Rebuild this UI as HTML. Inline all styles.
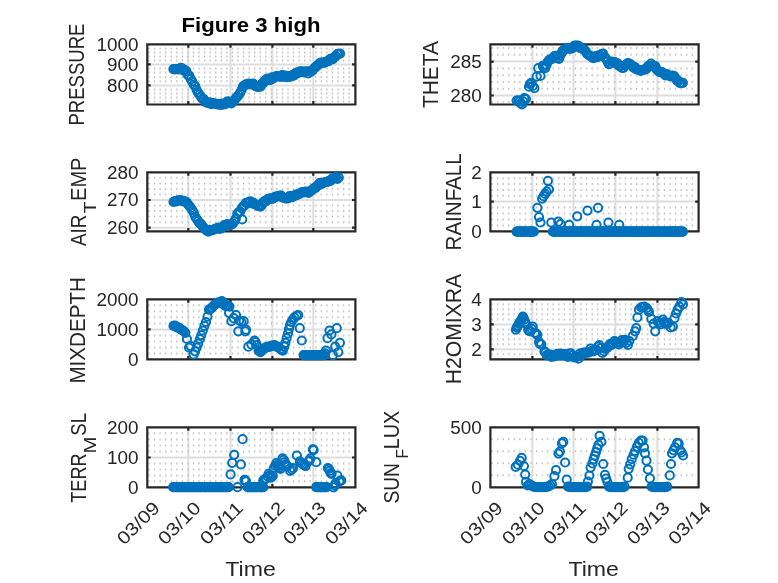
<!DOCTYPE html>
<html lang="en"><head><meta charset="utf-8"><title>Figure 3 high</title>
<style>html,body{margin:0;padding:0;background:#fff;}svg{display:block;filter:blur(0.4px);}</style></head>
<body><svg width="778" height="583" viewBox="0 0 778 583" font-family="'Liberation Sans', sans-serif" fill="#262626">
<rect width="778" height="583" fill="#fff"/>
<g>
<path d="M188.30 44.30V104.50M230.50 44.30V104.50M272.40 44.30V104.50M313.30 44.30V104.50M147.30 64.40H355.40M147.30 85.40H355.40" stroke="#dedede" stroke-width="2" fill="none"/>
<path d="M149.00 47.40v2M149.00 51.40v2M149.00 55.40v2M149.00 59.40v2M149.00 67.40v2M149.00 71.40v2M149.00 76.00v2M149.00 80.20v2M149.00 88.40v2M149.00 92.40v2M149.00 96.50v2M149.00 100.50v2M154.56 47.40v2M154.56 51.40v2M154.56 55.40v2M154.56 59.40v2M154.56 67.40v2M154.56 71.40v2M154.56 76.00v2M154.56 80.20v2M154.56 88.40v2M154.56 92.40v2M154.56 96.50v2M154.56 100.50v2M160.12 47.40v2M160.12 51.40v2M160.12 55.40v2M160.12 59.40v2M160.12 67.40v2M160.12 71.40v2M160.12 76.00v2M160.12 80.20v2M160.12 88.40v2M160.12 92.40v2M160.12 96.50v2M160.12 100.50v2M165.68 47.40v2M165.68 51.40v2M165.68 55.40v2M165.68 59.40v2M165.68 67.40v2M165.68 71.40v2M165.68 76.00v2M165.68 80.20v2M165.68 88.40v2M165.68 92.40v2M165.68 96.50v2M165.68 100.50v2M171.24 47.40v2M171.24 51.40v2M171.24 55.40v2M171.24 59.40v2M171.24 67.40v2M171.24 71.40v2M171.24 76.00v2M171.24 80.20v2M171.24 88.40v2M171.24 92.40v2M171.24 96.50v2M171.24 100.50v2M176.80 47.40v2M176.80 51.40v2M176.80 55.40v2M176.80 59.40v2M176.80 67.40v2M176.80 71.40v2M176.80 76.00v2M176.80 80.20v2M176.80 88.40v2M176.80 92.40v2M176.80 96.50v2M176.80 100.50v2M182.36 47.40v2M182.36 51.40v2M182.36 55.40v2M182.36 59.40v2M182.36 67.40v2M182.36 71.40v2M182.36 76.00v2M182.36 80.20v2M182.36 88.40v2M182.36 92.40v2M182.36 96.50v2M182.36 100.50v2M187.92 47.40v2M187.92 51.40v2M187.92 55.40v2M187.92 59.40v2M187.92 67.40v2M187.92 71.40v2M187.92 76.00v2M187.92 80.20v2M187.92 88.40v2M187.92 92.40v2M187.92 96.50v2M187.92 100.50v2M193.48 47.40v2M193.48 51.40v2M193.48 55.40v2M193.48 59.40v2M193.48 67.40v2M193.48 71.40v2M193.48 76.00v2M193.48 80.20v2M193.48 88.40v2M193.48 92.40v2M193.48 96.50v2M193.48 100.50v2M199.04 47.40v2M199.04 51.40v2M199.04 55.40v2M199.04 59.40v2M199.04 67.40v2M199.04 71.40v2M199.04 76.00v2M199.04 80.20v2M199.04 88.40v2M199.04 92.40v2M199.04 96.50v2M199.04 100.50v2M204.60 47.40v2M204.60 51.40v2M204.60 55.40v2M204.60 59.40v2M204.60 67.40v2M204.60 71.40v2M204.60 76.00v2M204.60 80.20v2M204.60 88.40v2M204.60 92.40v2M204.60 96.50v2M204.60 100.50v2M210.16 47.40v2M210.16 51.40v2M210.16 55.40v2M210.16 59.40v2M210.16 67.40v2M210.16 71.40v2M210.16 76.00v2M210.16 80.20v2M210.16 88.40v2M210.16 92.40v2M210.16 96.50v2M210.16 100.50v2M215.72 47.40v2M215.72 51.40v2M215.72 55.40v2M215.72 59.40v2M215.72 67.40v2M215.72 71.40v2M215.72 76.00v2M215.72 80.20v2M215.72 88.40v2M215.72 92.40v2M215.72 96.50v2M215.72 100.50v2M221.28 47.40v2M221.28 51.40v2M221.28 55.40v2M221.28 59.40v2M221.28 67.40v2M221.28 71.40v2M221.28 76.00v2M221.28 80.20v2M221.28 88.40v2M221.28 92.40v2M221.28 96.50v2M221.28 100.50v2M226.84 47.40v2M226.84 51.40v2M226.84 55.40v2M226.84 59.40v2M226.84 67.40v2M226.84 71.40v2M226.84 76.00v2M226.84 80.20v2M226.84 88.40v2M226.84 92.40v2M226.84 96.50v2M226.84 100.50v2M232.40 47.40v2M232.40 51.40v2M232.40 55.40v2M232.40 59.40v2M232.40 67.40v2M232.40 71.40v2M232.40 76.00v2M232.40 80.20v2M232.40 88.40v2M232.40 92.40v2M232.40 96.50v2M232.40 100.50v2M237.96 47.40v2M237.96 51.40v2M237.96 55.40v2M237.96 59.40v2M237.96 67.40v2M237.96 71.40v2M237.96 76.00v2M237.96 80.20v2M237.96 88.40v2M237.96 92.40v2M237.96 96.50v2M237.96 100.50v2M243.52 47.40v2M243.52 51.40v2M243.52 55.40v2M243.52 59.40v2M243.52 67.40v2M243.52 71.40v2M243.52 76.00v2M243.52 80.20v2M243.52 88.40v2M243.52 92.40v2M243.52 96.50v2M243.52 100.50v2M249.08 47.40v2M249.08 51.40v2M249.08 55.40v2M249.08 59.40v2M249.08 67.40v2M249.08 71.40v2M249.08 76.00v2M249.08 80.20v2M249.08 88.40v2M249.08 92.40v2M249.08 96.50v2M249.08 100.50v2M254.64 47.40v2M254.64 51.40v2M254.64 55.40v2M254.64 59.40v2M254.64 67.40v2M254.64 71.40v2M254.64 76.00v2M254.64 80.20v2M254.64 88.40v2M254.64 92.40v2M254.64 96.50v2M254.64 100.50v2M260.20 47.40v2M260.20 51.40v2M260.20 55.40v2M260.20 59.40v2M260.20 67.40v2M260.20 71.40v2M260.20 76.00v2M260.20 80.20v2M260.20 88.40v2M260.20 92.40v2M260.20 96.50v2M260.20 100.50v2M265.76 47.40v2M265.76 51.40v2M265.76 55.40v2M265.76 59.40v2M265.76 67.40v2M265.76 71.40v2M265.76 76.00v2M265.76 80.20v2M265.76 88.40v2M265.76 92.40v2M265.76 96.50v2M265.76 100.50v2M271.32 47.40v2M271.32 51.40v2M271.32 55.40v2M271.32 59.40v2M271.32 67.40v2M271.32 71.40v2M271.32 76.00v2M271.32 80.20v2M271.32 88.40v2M271.32 92.40v2M271.32 96.50v2M271.32 100.50v2M276.88 47.40v2M276.88 51.40v2M276.88 55.40v2M276.88 59.40v2M276.88 67.40v2M276.88 71.40v2M276.88 76.00v2M276.88 80.20v2M276.88 88.40v2M276.88 92.40v2M276.88 96.50v2M276.88 100.50v2M282.44 47.40v2M282.44 51.40v2M282.44 55.40v2M282.44 59.40v2M282.44 67.40v2M282.44 71.40v2M282.44 76.00v2M282.44 80.20v2M282.44 88.40v2M282.44 92.40v2M282.44 96.50v2M282.44 100.50v2M288.00 47.40v2M288.00 51.40v2M288.00 55.40v2M288.00 59.40v2M288.00 67.40v2M288.00 71.40v2M288.00 76.00v2M288.00 80.20v2M288.00 88.40v2M288.00 92.40v2M288.00 96.50v2M288.00 100.50v2M293.56 47.40v2M293.56 51.40v2M293.56 55.40v2M293.56 59.40v2M293.56 67.40v2M293.56 71.40v2M293.56 76.00v2M293.56 80.20v2M293.56 88.40v2M293.56 92.40v2M293.56 96.50v2M293.56 100.50v2M299.12 47.40v2M299.12 51.40v2M299.12 55.40v2M299.12 59.40v2M299.12 67.40v2M299.12 71.40v2M299.12 76.00v2M299.12 80.20v2M299.12 88.40v2M299.12 92.40v2M299.12 96.50v2M299.12 100.50v2M304.68 47.40v2M304.68 51.40v2M304.68 55.40v2M304.68 59.40v2M304.68 67.40v2M304.68 71.40v2M304.68 76.00v2M304.68 80.20v2M304.68 88.40v2M304.68 92.40v2M304.68 96.50v2M304.68 100.50v2M310.24 47.40v2M310.24 51.40v2M310.24 55.40v2M310.24 59.40v2M310.24 67.40v2M310.24 71.40v2M310.24 76.00v2M310.24 80.20v2M310.24 88.40v2M310.24 92.40v2M310.24 96.50v2M310.24 100.50v2M315.80 47.40v2M315.80 51.40v2M315.80 55.40v2M315.80 59.40v2M315.80 67.40v2M315.80 71.40v2M315.80 76.00v2M315.80 80.20v2M315.80 88.40v2M315.80 92.40v2M315.80 96.50v2M315.80 100.50v2M321.36 47.40v2M321.36 51.40v2M321.36 55.40v2M321.36 59.40v2M321.36 67.40v2M321.36 71.40v2M321.36 76.00v2M321.36 80.20v2M321.36 88.40v2M321.36 92.40v2M321.36 96.50v2M321.36 100.50v2M326.92 47.40v2M326.92 51.40v2M326.92 55.40v2M326.92 59.40v2M326.92 67.40v2M326.92 71.40v2M326.92 76.00v2M326.92 80.20v2M326.92 88.40v2M326.92 92.40v2M326.92 96.50v2M326.92 100.50v2M332.48 47.40v2M332.48 51.40v2M332.48 55.40v2M332.48 59.40v2M332.48 67.40v2M332.48 71.40v2M332.48 76.00v2M332.48 80.20v2M332.48 88.40v2M332.48 92.40v2M332.48 96.50v2M332.48 100.50v2M338.04 47.40v2M338.04 51.40v2M338.04 55.40v2M338.04 59.40v2M338.04 67.40v2M338.04 71.40v2M338.04 76.00v2M338.04 80.20v2M338.04 88.40v2M338.04 92.40v2M338.04 96.50v2M338.04 100.50v2M343.60 47.40v2M343.60 51.40v2M343.60 55.40v2M343.60 59.40v2M343.60 67.40v2M343.60 71.40v2M343.60 76.00v2M343.60 80.20v2M343.60 88.40v2M343.60 92.40v2M343.60 96.50v2M343.60 100.50v2M349.16 47.40v2M349.16 51.40v2M349.16 55.40v2M349.16 59.40v2M349.16 67.40v2M349.16 71.40v2M349.16 76.00v2M349.16 80.20v2M349.16 88.40v2M349.16 92.40v2M349.16 96.50v2M349.16 100.50v2" stroke="#c2c2c2" stroke-width="1.3" fill="none"/>
<path d="M147.30 44.30H355.40V104.50H147.30ZM147.30 44.30v3.4M147.30 104.50v-3.4M188.30 44.30v3.4M188.30 104.50v-3.4M230.50 44.30v3.4M230.50 104.50v-3.4M272.40 44.30v3.4M272.40 104.50v-3.4M313.30 44.30v3.4M313.30 104.50v-3.4M355.40 44.30v3.4M355.40 104.50v-3.4M147.30 44.30h3.4M355.40 44.30h-3.4M147.30 64.40h3.4M355.40 64.40h-3.4M147.30 85.40h3.4M355.40 85.40h-3.4" stroke="#262626" stroke-width="2.2" fill="none" stroke-linejoin="miter"/>
<g fill="none" stroke="#0072bd" stroke-width="2.0"><circle cx="173.4" cy="69.1" r="4.1"/><circle cx="174.8" cy="69.5" r="4.1"/><circle cx="176.3" cy="69.0" r="4.1"/><circle cx="177.8" cy="69.3" r="4.1"/><circle cx="179.2" cy="69.1" r="4.1"/><circle cx="180.7" cy="67.8" r="4.1"/><circle cx="182.1" cy="68.3" r="4.1"/><circle cx="183.6" cy="70.7" r="4.1"/><circle cx="185.0" cy="70.1" r="4.1"/><circle cx="186.4" cy="71.1" r="4.1"/><circle cx="187.9" cy="74.9" r="4.1"/><circle cx="189.3" cy="75.9" r="4.1"/><circle cx="190.8" cy="79.2" r="4.1"/><circle cx="192.2" cy="81.3" r="4.1"/><circle cx="193.7" cy="84.6" r="4.1"/><circle cx="195.2" cy="86.2" r="4.1"/><circle cx="196.6" cy="89.8" r="4.1"/><circle cx="198.1" cy="92.7" r="4.1"/><circle cx="199.5" cy="94.5" r="4.1"/><circle cx="200.9" cy="96.8" r="4.1"/><circle cx="202.4" cy="98.6" r="4.1"/><circle cx="203.8" cy="99.1" r="4.1"/><circle cx="205.3" cy="102.0" r="4.1"/><circle cx="206.8" cy="102.6" r="4.1"/><circle cx="208.2" cy="102.9" r="4.1"/><circle cx="209.7" cy="102.4" r="4.1"/><circle cx="211.1" cy="104.1" r="4.1"/><circle cx="212.6" cy="103.0" r="4.1"/><circle cx="214.0" cy="103.4" r="4.1"/><circle cx="215.4" cy="104.0" r="4.1"/><circle cx="216.9" cy="103.9" r="4.1"/><circle cx="218.3" cy="104.7" r="4.1"/><circle cx="219.8" cy="103.9" r="4.1"/><circle cx="221.2" cy="104.8" r="4.1"/><circle cx="222.7" cy="103.6" r="4.1"/><circle cx="224.2" cy="104.3" r="4.1"/><circle cx="225.6" cy="103.8" r="4.1"/><circle cx="227.1" cy="101.7" r="4.1"/><circle cx="228.5" cy="101.7" r="4.1"/><circle cx="229.9" cy="101.8" r="4.1"/><circle cx="231.4" cy="103.3" r="4.1"/><circle cx="232.8" cy="101.9" r="4.1"/><circle cx="234.3" cy="100.6" r="4.1"/><circle cx="235.8" cy="98.1" r="4.1"/><circle cx="237.2" cy="96.9" r="4.1"/><circle cx="238.7" cy="94.9" r="4.1"/><circle cx="240.1" cy="92.9" r="4.1"/><circle cx="241.6" cy="89.9" r="4.1"/><circle cx="243.0" cy="86.3" r="4.1"/><circle cx="244.4" cy="85.5" r="4.1"/><circle cx="245.9" cy="84.4" r="4.1"/><circle cx="247.3" cy="84.3" r="4.1"/><circle cx="248.8" cy="83.5" r="4.1"/><circle cx="250.2" cy="84.1" r="4.1"/><circle cx="251.7" cy="84.1" r="4.1"/><circle cx="253.2" cy="83.6" r="4.1"/><circle cx="254.6" cy="85.7" r="4.1"/><circle cx="256.1" cy="86.5" r="4.1"/><circle cx="257.5" cy="86.8" r="4.1"/><circle cx="258.9" cy="86.6" r="4.1"/><circle cx="260.4" cy="86.7" r="4.1"/><circle cx="261.9" cy="83.7" r="4.1"/><circle cx="263.3" cy="83.1" r="4.1"/><circle cx="264.8" cy="80.6" r="4.1"/><circle cx="266.2" cy="79.3" r="4.1"/><circle cx="267.6" cy="78.5" r="4.1"/><circle cx="269.1" cy="79.9" r="4.1"/><circle cx="270.6" cy="79.8" r="4.1"/><circle cx="272.0" cy="77.4" r="4.1"/><circle cx="273.4" cy="78.5" r="4.1"/><circle cx="274.9" cy="77.2" r="4.1"/><circle cx="276.4" cy="76.1" r="4.1"/><circle cx="277.8" cy="76.0" r="4.1"/><circle cx="279.2" cy="76.5" r="4.1"/><circle cx="280.7" cy="76.9" r="4.1"/><circle cx="282.1" cy="75.2" r="4.1"/><circle cx="283.6" cy="76.7" r="4.1"/><circle cx="285.1" cy="75.6" r="4.1"/><circle cx="286.5" cy="77.2" r="4.1"/><circle cx="287.9" cy="76.0" r="4.1"/><circle cx="289.4" cy="76.8" r="4.1"/><circle cx="290.9" cy="76.5" r="4.1"/><circle cx="292.3" cy="75.0" r="4.1"/><circle cx="293.8" cy="75.6" r="4.1"/><circle cx="295.2" cy="73.6" r="4.1"/><circle cx="296.6" cy="72.6" r="4.1"/><circle cx="298.1" cy="73.2" r="4.1"/><circle cx="299.6" cy="71.5" r="4.1"/><circle cx="301.0" cy="71.4" r="4.1"/><circle cx="302.4" cy="71.7" r="4.1"/><circle cx="303.9" cy="72.3" r="4.1"/><circle cx="305.4" cy="71.5" r="4.1"/><circle cx="306.8" cy="71.4" r="4.1"/><circle cx="308.2" cy="73.4" r="4.1"/><circle cx="309.7" cy="71.3" r="4.1"/><circle cx="311.1" cy="71.7" r="4.1"/><circle cx="312.6" cy="70.5" r="4.1"/><circle cx="314.1" cy="68.4" r="4.1"/><circle cx="315.5" cy="67.2" r="4.1"/><circle cx="316.9" cy="65.9" r="4.1"/><circle cx="318.4" cy="64.7" r="4.1"/><circle cx="319.9" cy="63.2" r="4.1"/><circle cx="321.3" cy="62.6" r="4.1"/><circle cx="322.8" cy="62.5" r="4.1"/><circle cx="324.2" cy="63.0" r="4.1"/><circle cx="325.6" cy="61.9" r="4.1"/><circle cx="327.1" cy="61.4" r="4.1"/><circle cx="328.6" cy="61.2" r="4.1"/><circle cx="330.0" cy="59.2" r="4.1"/><circle cx="331.4" cy="58.5" r="4.1"/><circle cx="332.9" cy="59.1" r="4.1"/><circle cx="334.4" cy="57.1" r="4.1"/><circle cx="335.8" cy="56.2" r="4.1"/><circle cx="337.2" cy="54.0" r="4.1"/><circle cx="338.7" cy="54.0" r="4.1"/><circle cx="340.1" cy="53.6" r="4.1"/></g>
<text x="138.4" y="50.6" text-anchor="end" font-size="18" textLength="42.0" lengthAdjust="spacingAndGlyphs">1000</text>
<text x="138.4" y="70.7" text-anchor="end" font-size="18" textLength="31.5" lengthAdjust="spacingAndGlyphs">900</text>
<text x="138.4" y="91.7" text-anchor="end" font-size="18" textLength="31.5" lengthAdjust="spacingAndGlyphs">800</text>
</g>
<g>
<path d="M532.40 44.30V104.50M573.50 44.30V104.50M615.40 44.30V104.50M657.40 44.30V104.50M490.40 61.60H698.60M490.40 95.50H698.60" stroke="#dedede" stroke-width="2" fill="none"/>
<path d="M492.10 101.28v2M492.10 87.72v2M492.10 80.94v2M492.10 74.16v2M492.10 67.38v2M492.10 53.82v2M492.10 47.04v2M497.66 101.28v2M497.66 87.72v2M497.66 80.94v2M497.66 74.16v2M497.66 67.38v2M497.66 53.82v2M497.66 47.04v2M503.22 101.28v2M503.22 87.72v2M503.22 80.94v2M503.22 74.16v2M503.22 67.38v2M503.22 53.82v2M503.22 47.04v2M508.78 101.28v2M508.78 87.72v2M508.78 80.94v2M508.78 74.16v2M508.78 67.38v2M508.78 53.82v2M508.78 47.04v2M514.34 101.28v2M514.34 87.72v2M514.34 80.94v2M514.34 74.16v2M514.34 67.38v2M514.34 53.82v2M514.34 47.04v2M519.90 101.28v2M519.90 87.72v2M519.90 80.94v2M519.90 74.16v2M519.90 67.38v2M519.90 53.82v2M519.90 47.04v2M525.46 101.28v2M525.46 87.72v2M525.46 80.94v2M525.46 74.16v2M525.46 67.38v2M525.46 53.82v2M525.46 47.04v2M531.02 101.28v2M531.02 87.72v2M531.02 80.94v2M531.02 74.16v2M531.02 67.38v2M531.02 53.82v2M531.02 47.04v2M536.58 101.28v2M536.58 87.72v2M536.58 80.94v2M536.58 74.16v2M536.58 67.38v2M536.58 53.82v2M536.58 47.04v2M542.14 101.28v2M542.14 87.72v2M542.14 80.94v2M542.14 74.16v2M542.14 67.38v2M542.14 53.82v2M542.14 47.04v2M547.70 101.28v2M547.70 87.72v2M547.70 80.94v2M547.70 74.16v2M547.70 67.38v2M547.70 53.82v2M547.70 47.04v2M553.26 101.28v2M553.26 87.72v2M553.26 80.94v2M553.26 74.16v2M553.26 67.38v2M553.26 53.82v2M553.26 47.04v2M558.82 101.28v2M558.82 87.72v2M558.82 80.94v2M558.82 74.16v2M558.82 67.38v2M558.82 53.82v2M558.82 47.04v2M564.38 101.28v2M564.38 87.72v2M564.38 80.94v2M564.38 74.16v2M564.38 67.38v2M564.38 53.82v2M564.38 47.04v2M569.94 101.28v2M569.94 87.72v2M569.94 80.94v2M569.94 74.16v2M569.94 67.38v2M569.94 53.82v2M569.94 47.04v2M575.50 101.28v2M575.50 87.72v2M575.50 80.94v2M575.50 74.16v2M575.50 67.38v2M575.50 53.82v2M575.50 47.04v2M581.06 101.28v2M581.06 87.72v2M581.06 80.94v2M581.06 74.16v2M581.06 67.38v2M581.06 53.82v2M581.06 47.04v2M586.62 101.28v2M586.62 87.72v2M586.62 80.94v2M586.62 74.16v2M586.62 67.38v2M586.62 53.82v2M586.62 47.04v2M592.18 101.28v2M592.18 87.72v2M592.18 80.94v2M592.18 74.16v2M592.18 67.38v2M592.18 53.82v2M592.18 47.04v2M597.74 101.28v2M597.74 87.72v2M597.74 80.94v2M597.74 74.16v2M597.74 67.38v2M597.74 53.82v2M597.74 47.04v2M603.30 101.28v2M603.30 87.72v2M603.30 80.94v2M603.30 74.16v2M603.30 67.38v2M603.30 53.82v2M603.30 47.04v2M608.86 101.28v2M608.86 87.72v2M608.86 80.94v2M608.86 74.16v2M608.86 67.38v2M608.86 53.82v2M608.86 47.04v2M614.42 101.28v2M614.42 87.72v2M614.42 80.94v2M614.42 74.16v2M614.42 67.38v2M614.42 53.82v2M614.42 47.04v2M619.98 101.28v2M619.98 87.72v2M619.98 80.94v2M619.98 74.16v2M619.98 67.38v2M619.98 53.82v2M619.98 47.04v2M625.54 101.28v2M625.54 87.72v2M625.54 80.94v2M625.54 74.16v2M625.54 67.38v2M625.54 53.82v2M625.54 47.04v2M631.10 101.28v2M631.10 87.72v2M631.10 80.94v2M631.10 74.16v2M631.10 67.38v2M631.10 53.82v2M631.10 47.04v2M636.66 101.28v2M636.66 87.72v2M636.66 80.94v2M636.66 74.16v2M636.66 67.38v2M636.66 53.82v2M636.66 47.04v2M642.22 101.28v2M642.22 87.72v2M642.22 80.94v2M642.22 74.16v2M642.22 67.38v2M642.22 53.82v2M642.22 47.04v2M647.78 101.28v2M647.78 87.72v2M647.78 80.94v2M647.78 74.16v2M647.78 67.38v2M647.78 53.82v2M647.78 47.04v2M653.34 101.28v2M653.34 87.72v2M653.34 80.94v2M653.34 74.16v2M653.34 67.38v2M653.34 53.82v2M653.34 47.04v2M658.90 101.28v2M658.90 87.72v2M658.90 80.94v2M658.90 74.16v2M658.90 67.38v2M658.90 53.82v2M658.90 47.04v2M664.46 101.28v2M664.46 87.72v2M664.46 80.94v2M664.46 74.16v2M664.46 67.38v2M664.46 53.82v2M664.46 47.04v2M670.02 101.28v2M670.02 87.72v2M670.02 80.94v2M670.02 74.16v2M670.02 67.38v2M670.02 53.82v2M670.02 47.04v2M675.58 101.28v2M675.58 87.72v2M675.58 80.94v2M675.58 74.16v2M675.58 67.38v2M675.58 53.82v2M675.58 47.04v2M681.14 101.28v2M681.14 87.72v2M681.14 80.94v2M681.14 74.16v2M681.14 67.38v2M681.14 53.82v2M681.14 47.04v2M686.70 101.28v2M686.70 87.72v2M686.70 80.94v2M686.70 74.16v2M686.70 67.38v2M686.70 53.82v2M686.70 47.04v2M692.26 101.28v2M692.26 87.72v2M692.26 80.94v2M692.26 74.16v2M692.26 67.38v2M692.26 53.82v2M692.26 47.04v2" stroke="#c2c2c2" stroke-width="1.3" fill="none"/>
<path d="M490.40 44.30H698.60V104.50H490.40ZM490.40 44.30v3.4M490.40 104.50v-3.4M532.40 44.30v3.4M532.40 104.50v-3.4M573.50 44.30v3.4M573.50 104.50v-3.4M615.40 44.30v3.4M615.40 104.50v-3.4M657.40 44.30v3.4M657.40 104.50v-3.4M698.60 44.30v3.4M698.60 104.50v-3.4M490.40 61.60h3.4M698.60 61.60h-3.4M490.40 95.50h3.4M698.60 95.50h-3.4" stroke="#262626" stroke-width="2.2" fill="none" stroke-linejoin="miter"/>
<g fill="none" stroke="#0072bd" stroke-width="2.0"><circle cx="516.6" cy="100.6" r="4.1"/><circle cx="518.4" cy="100.4" r="4.1"/><circle cx="519.7" cy="101.3" r="4.1"/><circle cx="520.7" cy="103.3" r="4.1"/><circle cx="522.0" cy="104.4" r="4.1"/><circle cx="523.1" cy="101.3" r="4.1"/><circle cx="524.3" cy="98.2" r="4.1"/><circle cx="525.3" cy="98.8" r="4.1"/><circle cx="525.9" cy="99.0" r="4.1"/><circle cx="529.0" cy="86.7" r="4.1"/><circle cx="529.9" cy="84.1" r="4.1"/><circle cx="531.3" cy="82.8" r="4.1"/><circle cx="532.8" cy="86.0" r="4.1"/><circle cx="534.4" cy="88.2" r="4.1"/><circle cx="536.7" cy="76.6" r="4.1"/><circle cx="538.2" cy="68.2" r="4.1"/><circle cx="540.5" cy="75.9" r="4.1"/><circle cx="542.8" cy="65.8" r="4.1"/><circle cx="543.7" cy="67.4" r="4.1"/><circle cx="545.2" cy="68.2" r="4.1"/><circle cx="546.5" cy="65.0" r="4.1"/><circle cx="547.5" cy="62.0" r="4.1"/><circle cx="548.9" cy="60.4" r="4.1"/><circle cx="549.8" cy="59.7" r="4.1"/><circle cx="551.1" cy="59.5" r="4.1"/><circle cx="552.9" cy="58.1" r="4.1"/><circle cx="554.5" cy="56.2" r="4.1"/><circle cx="556.0" cy="55.8" r="4.1"/><circle cx="557.4" cy="58.0" r="4.1"/><circle cx="559.0" cy="58.9" r="4.1"/><circle cx="560.1" cy="55.8" r="4.1"/><circle cx="561.4" cy="53.5" r="4.1"/><circle cx="562.4" cy="51.2" r="4.1"/><circle cx="563.7" cy="50.4" r="4.1"/><circle cx="565.4" cy="49.0" r="4.1"/><circle cx="566.9" cy="47.8" r="4.1"/><circle cx="568.3" cy="48.2" r="4.1"/><circle cx="569.8" cy="48.8" r="4.1"/><circle cx="571.2" cy="48.4" r="4.1"/><circle cx="572.6" cy="48.1" r="4.1"/><circle cx="574.1" cy="45.8" r="4.1"/><circle cx="575.5" cy="45.7" r="4.1"/><circle cx="577.0" cy="45.6" r="4.1"/><circle cx="578.5" cy="45.8" r="4.1"/><circle cx="579.9" cy="48.0" r="4.1"/><circle cx="581.4" cy="47.7" r="4.1"/><circle cx="582.8" cy="49.1" r="4.1"/><circle cx="584.2" cy="49.4" r="4.1"/><circle cx="585.7" cy="51.2" r="4.1"/><circle cx="587.1" cy="53.9" r="4.1"/><circle cx="588.6" cy="54.9" r="4.1"/><circle cx="590.0" cy="55.8" r="4.1"/><circle cx="591.5" cy="56.5" r="4.1"/><circle cx="593.0" cy="58.2" r="4.1"/><circle cx="594.4" cy="57.7" r="4.1"/><circle cx="595.9" cy="56.2" r="4.1"/><circle cx="597.3" cy="57.2" r="4.1"/><circle cx="598.8" cy="55.3" r="4.1"/><circle cx="600.2" cy="55.8" r="4.1"/><circle cx="601.6" cy="54.2" r="4.1"/><circle cx="603.1" cy="53.5" r="4.1"/><circle cx="604.5" cy="57.1" r="4.1"/><circle cx="606.0" cy="58.7" r="4.1"/><circle cx="607.5" cy="61.6" r="4.1"/><circle cx="608.9" cy="64.1" r="4.1"/><circle cx="610.4" cy="63.3" r="4.1"/><circle cx="611.8" cy="61.5" r="4.1"/><circle cx="613.2" cy="62.2" r="4.1"/><circle cx="614.7" cy="62.1" r="4.1"/><circle cx="616.1" cy="63.3" r="4.1"/><circle cx="617.6" cy="63.3" r="4.1"/><circle cx="619.0" cy="65.8" r="4.1"/><circle cx="620.5" cy="66.2" r="4.1"/><circle cx="622.0" cy="67.8" r="4.1"/><circle cx="623.4" cy="67.8" r="4.1"/><circle cx="624.9" cy="65.5" r="4.1"/><circle cx="626.3" cy="64.6" r="4.1"/><circle cx="627.8" cy="63.1" r="4.1"/><circle cx="629.2" cy="63.5" r="4.1"/><circle cx="630.6" cy="64.4" r="4.1"/><circle cx="632.1" cy="65.9" r="4.1"/><circle cx="633.5" cy="67.6" r="4.1"/><circle cx="635.0" cy="67.2" r="4.1"/><circle cx="636.5" cy="69.4" r="4.1"/><circle cx="637.9" cy="69.5" r="4.1"/><circle cx="639.4" cy="70.1" r="4.1"/><circle cx="640.8" cy="70.9" r="4.1"/><circle cx="642.2" cy="70.0" r="4.1"/><circle cx="643.7" cy="69.5" r="4.1"/><circle cx="645.1" cy="69.7" r="4.1"/><circle cx="646.6" cy="68.7" r="4.1"/><circle cx="648.0" cy="66.0" r="4.1"/><circle cx="649.5" cy="66.3" r="4.1"/><circle cx="651.0" cy="63.5" r="4.1"/><circle cx="652.4" cy="65.5" r="4.1"/><circle cx="653.9" cy="66.3" r="4.1"/><circle cx="655.3" cy="66.1" r="4.1"/><circle cx="656.8" cy="69.6" r="4.1"/><circle cx="658.2" cy="70.8" r="4.1"/><circle cx="659.6" cy="72.1" r="4.1"/><circle cx="661.1" cy="71.8" r="4.1"/><circle cx="662.5" cy="72.7" r="4.1"/><circle cx="664.0" cy="73.7" r="4.1"/><circle cx="665.5" cy="75.4" r="4.1"/><circle cx="666.9" cy="74.1" r="4.1"/><circle cx="668.4" cy="75.4" r="4.1"/><circle cx="669.8" cy="76.0" r="4.1"/><circle cx="671.2" cy="76.4" r="4.1"/><circle cx="672.7" cy="75.7" r="4.1"/><circle cx="674.1" cy="76.2" r="4.1"/><circle cx="675.6" cy="78.1" r="4.1"/><circle cx="677.0" cy="80.6" r="4.1"/><circle cx="678.5" cy="81.2" r="4.1"/><circle cx="680.0" cy="83.1" r="4.1"/><circle cx="681.4" cy="82.9" r="4.1"/><circle cx="682.9" cy="82.8" r="4.1"/></g>
<text x="481.8" y="67.9" text-anchor="end" font-size="18" textLength="31.5" lengthAdjust="spacingAndGlyphs">285</text>
<text x="481.8" y="101.8" text-anchor="end" font-size="18" textLength="31.5" lengthAdjust="spacingAndGlyphs">280</text>
</g>
<g>
<path d="M188.30 172.30V231.40M230.50 172.30V231.40M272.40 172.30V231.40M313.30 172.30V231.40M147.30 200.00H355.40M147.30 227.70H355.40" stroke="#dedede" stroke-width="2" fill="none"/>
<path d="M149.00 221.16v2M149.00 215.62v2M149.00 210.08v2M149.00 204.54v2M149.00 193.46v2M149.00 187.92v2M149.00 182.38v2M149.00 176.84v2M154.56 221.16v2M154.56 215.62v2M154.56 210.08v2M154.56 204.54v2M154.56 193.46v2M154.56 187.92v2M154.56 182.38v2M154.56 176.84v2M160.12 221.16v2M160.12 215.62v2M160.12 210.08v2M160.12 204.54v2M160.12 193.46v2M160.12 187.92v2M160.12 182.38v2M160.12 176.84v2M165.68 221.16v2M165.68 215.62v2M165.68 210.08v2M165.68 204.54v2M165.68 193.46v2M165.68 187.92v2M165.68 182.38v2M165.68 176.84v2M171.24 221.16v2M171.24 215.62v2M171.24 210.08v2M171.24 204.54v2M171.24 193.46v2M171.24 187.92v2M171.24 182.38v2M171.24 176.84v2M176.80 221.16v2M176.80 215.62v2M176.80 210.08v2M176.80 204.54v2M176.80 193.46v2M176.80 187.92v2M176.80 182.38v2M176.80 176.84v2M182.36 221.16v2M182.36 215.62v2M182.36 210.08v2M182.36 204.54v2M182.36 193.46v2M182.36 187.92v2M182.36 182.38v2M182.36 176.84v2M187.92 221.16v2M187.92 215.62v2M187.92 210.08v2M187.92 204.54v2M187.92 193.46v2M187.92 187.92v2M187.92 182.38v2M187.92 176.84v2M193.48 221.16v2M193.48 215.62v2M193.48 210.08v2M193.48 204.54v2M193.48 193.46v2M193.48 187.92v2M193.48 182.38v2M193.48 176.84v2M199.04 221.16v2M199.04 215.62v2M199.04 210.08v2M199.04 204.54v2M199.04 193.46v2M199.04 187.92v2M199.04 182.38v2M199.04 176.84v2M204.60 221.16v2M204.60 215.62v2M204.60 210.08v2M204.60 204.54v2M204.60 193.46v2M204.60 187.92v2M204.60 182.38v2M204.60 176.84v2M210.16 221.16v2M210.16 215.62v2M210.16 210.08v2M210.16 204.54v2M210.16 193.46v2M210.16 187.92v2M210.16 182.38v2M210.16 176.84v2M215.72 221.16v2M215.72 215.62v2M215.72 210.08v2M215.72 204.54v2M215.72 193.46v2M215.72 187.92v2M215.72 182.38v2M215.72 176.84v2M221.28 221.16v2M221.28 215.62v2M221.28 210.08v2M221.28 204.54v2M221.28 193.46v2M221.28 187.92v2M221.28 182.38v2M221.28 176.84v2M226.84 221.16v2M226.84 215.62v2M226.84 210.08v2M226.84 204.54v2M226.84 193.46v2M226.84 187.92v2M226.84 182.38v2M226.84 176.84v2M232.40 221.16v2M232.40 215.62v2M232.40 210.08v2M232.40 204.54v2M232.40 193.46v2M232.40 187.92v2M232.40 182.38v2M232.40 176.84v2M237.96 221.16v2M237.96 215.62v2M237.96 210.08v2M237.96 204.54v2M237.96 193.46v2M237.96 187.92v2M237.96 182.38v2M237.96 176.84v2M243.52 221.16v2M243.52 215.62v2M243.52 210.08v2M243.52 204.54v2M243.52 193.46v2M243.52 187.92v2M243.52 182.38v2M243.52 176.84v2M249.08 221.16v2M249.08 215.62v2M249.08 210.08v2M249.08 204.54v2M249.08 193.46v2M249.08 187.92v2M249.08 182.38v2M249.08 176.84v2M254.64 221.16v2M254.64 215.62v2M254.64 210.08v2M254.64 204.54v2M254.64 193.46v2M254.64 187.92v2M254.64 182.38v2M254.64 176.84v2M260.20 221.16v2M260.20 215.62v2M260.20 210.08v2M260.20 204.54v2M260.20 193.46v2M260.20 187.92v2M260.20 182.38v2M260.20 176.84v2M265.76 221.16v2M265.76 215.62v2M265.76 210.08v2M265.76 204.54v2M265.76 193.46v2M265.76 187.92v2M265.76 182.38v2M265.76 176.84v2M271.32 221.16v2M271.32 215.62v2M271.32 210.08v2M271.32 204.54v2M271.32 193.46v2M271.32 187.92v2M271.32 182.38v2M271.32 176.84v2M276.88 221.16v2M276.88 215.62v2M276.88 210.08v2M276.88 204.54v2M276.88 193.46v2M276.88 187.92v2M276.88 182.38v2M276.88 176.84v2M282.44 221.16v2M282.44 215.62v2M282.44 210.08v2M282.44 204.54v2M282.44 193.46v2M282.44 187.92v2M282.44 182.38v2M282.44 176.84v2M288.00 221.16v2M288.00 215.62v2M288.00 210.08v2M288.00 204.54v2M288.00 193.46v2M288.00 187.92v2M288.00 182.38v2M288.00 176.84v2M293.56 221.16v2M293.56 215.62v2M293.56 210.08v2M293.56 204.54v2M293.56 193.46v2M293.56 187.92v2M293.56 182.38v2M293.56 176.84v2M299.12 221.16v2M299.12 215.62v2M299.12 210.08v2M299.12 204.54v2M299.12 193.46v2M299.12 187.92v2M299.12 182.38v2M299.12 176.84v2M304.68 221.16v2M304.68 215.62v2M304.68 210.08v2M304.68 204.54v2M304.68 193.46v2M304.68 187.92v2M304.68 182.38v2M304.68 176.84v2M310.24 221.16v2M310.24 215.62v2M310.24 210.08v2M310.24 204.54v2M310.24 193.46v2M310.24 187.92v2M310.24 182.38v2M310.24 176.84v2M315.80 221.16v2M315.80 215.62v2M315.80 210.08v2M315.80 204.54v2M315.80 193.46v2M315.80 187.92v2M315.80 182.38v2M315.80 176.84v2M321.36 221.16v2M321.36 215.62v2M321.36 210.08v2M321.36 204.54v2M321.36 193.46v2M321.36 187.92v2M321.36 182.38v2M321.36 176.84v2M326.92 221.16v2M326.92 215.62v2M326.92 210.08v2M326.92 204.54v2M326.92 193.46v2M326.92 187.92v2M326.92 182.38v2M326.92 176.84v2M332.48 221.16v2M332.48 215.62v2M332.48 210.08v2M332.48 204.54v2M332.48 193.46v2M332.48 187.92v2M332.48 182.38v2M332.48 176.84v2M338.04 221.16v2M338.04 215.62v2M338.04 210.08v2M338.04 204.54v2M338.04 193.46v2M338.04 187.92v2M338.04 182.38v2M338.04 176.84v2M343.60 221.16v2M343.60 215.62v2M343.60 210.08v2M343.60 204.54v2M343.60 193.46v2M343.60 187.92v2M343.60 182.38v2M343.60 176.84v2M349.16 221.16v2M349.16 215.62v2M349.16 210.08v2M349.16 204.54v2M349.16 193.46v2M349.16 187.92v2M349.16 182.38v2M349.16 176.84v2" stroke="#c2c2c2" stroke-width="1.3" fill="none"/>
<path d="M147.30 172.30H355.40V231.40H147.30ZM147.30 172.30v3.4M147.30 231.40v-3.4M188.30 172.30v3.4M188.30 231.40v-3.4M230.50 172.30v3.4M230.50 231.40v-3.4M272.40 172.30v3.4M272.40 231.40v-3.4M313.30 172.30v3.4M313.30 231.40v-3.4M355.40 172.30v3.4M355.40 231.40v-3.4M147.30 172.30h3.4M355.40 172.30h-3.4M147.30 200.00h3.4M355.40 200.00h-3.4M147.30 227.70h3.4M355.40 227.70h-3.4" stroke="#262626" stroke-width="2.2" fill="none" stroke-linejoin="miter"/>
<g fill="none" stroke="#0072bd" stroke-width="2.0"><circle cx="173.5" cy="201.9" r="4.1"/><circle cx="174.9" cy="201.2" r="4.1"/><circle cx="176.4" cy="201.4" r="4.1"/><circle cx="177.8" cy="200.5" r="4.1"/><circle cx="179.3" cy="200.0" r="4.1"/><circle cx="180.8" cy="200.4" r="4.1"/><circle cx="182.2" cy="201.2" r="4.1"/><circle cx="183.7" cy="200.8" r="4.1"/><circle cx="185.1" cy="201.6" r="4.1"/><circle cx="186.6" cy="202.1" r="4.1"/><circle cx="188.0" cy="204.4" r="4.1"/><circle cx="189.4" cy="205.8" r="4.1"/><circle cx="190.9" cy="207.9" r="4.1"/><circle cx="192.3" cy="210.2" r="4.1"/><circle cx="193.8" cy="212.8" r="4.1"/><circle cx="195.2" cy="216.7" r="4.1"/><circle cx="196.7" cy="218.9" r="4.1"/><circle cx="198.2" cy="221.1" r="4.1"/><circle cx="199.6" cy="223.2" r="4.1"/><circle cx="201.1" cy="224.2" r="4.1"/><circle cx="202.5" cy="226.2" r="4.1"/><circle cx="203.9" cy="228.0" r="4.1"/><circle cx="205.4" cy="229.3" r="4.1"/><circle cx="206.8" cy="230.7" r="4.1"/><circle cx="208.3" cy="231.7" r="4.1"/><circle cx="209.8" cy="229.8" r="4.1"/><circle cx="211.2" cy="230.4" r="4.1"/><circle cx="212.7" cy="230.2" r="4.1"/><circle cx="214.1" cy="229.5" r="4.1"/><circle cx="215.6" cy="228.5" r="4.1"/><circle cx="217.0" cy="228.7" r="4.1"/><circle cx="218.4" cy="227.6" r="4.1"/><circle cx="219.9" cy="228.9" r="4.1"/><circle cx="221.3" cy="228.2" r="4.1"/><circle cx="222.8" cy="226.6" r="4.1"/><circle cx="224.2" cy="225.2" r="4.1"/><circle cx="225.7" cy="225.5" r="4.1"/><circle cx="227.2" cy="224.2" r="4.1"/><circle cx="228.6" cy="225.0" r="4.1"/><circle cx="230.1" cy="225.2" r="4.1"/><circle cx="231.5" cy="224.7" r="4.1"/><circle cx="232.9" cy="223.4" r="4.1"/><circle cx="234.4" cy="221.4" r="4.1"/><circle cx="235.8" cy="218.7" r="4.1"/><circle cx="237.3" cy="213.9" r="4.1"/><circle cx="238.8" cy="212.2" r="4.1"/><circle cx="240.2" cy="211.5" r="4.1"/><circle cx="241.7" cy="208.3" r="4.1"/><circle cx="243.1" cy="206.4" r="4.1"/><circle cx="244.6" cy="205.5" r="4.1"/><circle cx="246.0" cy="202.8" r="4.1"/><circle cx="247.4" cy="202.8" r="4.1"/><circle cx="248.9" cy="202.2" r="4.1"/><circle cx="250.3" cy="201.4" r="4.1"/><circle cx="251.8" cy="203.3" r="4.1"/><circle cx="253.2" cy="202.7" r="4.1"/><circle cx="254.7" cy="204.1" r="4.1"/><circle cx="256.1" cy="204.5" r="4.1"/><circle cx="257.6" cy="206.0" r="4.1"/><circle cx="259.1" cy="205.9" r="4.1"/><circle cx="260.5" cy="206.6" r="4.1"/><circle cx="261.9" cy="205.1" r="4.1"/><circle cx="263.4" cy="201.9" r="4.1"/><circle cx="264.9" cy="200.9" r="4.1"/><circle cx="266.3" cy="201.1" r="4.1"/><circle cx="267.8" cy="199.1" r="4.1"/><circle cx="269.2" cy="198.6" r="4.1"/><circle cx="270.6" cy="198.4" r="4.1"/><circle cx="272.1" cy="198.9" r="4.1"/><circle cx="273.6" cy="198.1" r="4.1"/><circle cx="275.0" cy="196.8" r="4.1"/><circle cx="276.4" cy="196.6" r="4.1"/><circle cx="277.9" cy="196.0" r="4.1"/><circle cx="279.4" cy="196.3" r="4.1"/><circle cx="280.8" cy="195.4" r="4.1"/><circle cx="282.2" cy="197.1" r="4.1"/><circle cx="283.7" cy="197.8" r="4.1"/><circle cx="285.1" cy="198.3" r="4.1"/><circle cx="286.6" cy="198.3" r="4.1"/><circle cx="288.1" cy="198.3" r="4.1"/><circle cx="289.5" cy="196.1" r="4.1"/><circle cx="290.9" cy="196.3" r="4.1"/><circle cx="292.4" cy="197.2" r="4.1"/><circle cx="293.9" cy="196.2" r="4.1"/><circle cx="295.3" cy="194.8" r="4.1"/><circle cx="296.8" cy="195.2" r="4.1"/><circle cx="298.2" cy="193.8" r="4.1"/><circle cx="299.6" cy="193.8" r="4.1"/><circle cx="301.1" cy="192.5" r="4.1"/><circle cx="302.6" cy="192.1" r="4.1"/><circle cx="304.0" cy="192.4" r="4.1"/><circle cx="305.4" cy="191.6" r="4.1"/><circle cx="306.9" cy="191.9" r="4.1"/><circle cx="308.4" cy="192.9" r="4.1"/><circle cx="309.8" cy="191.5" r="4.1"/><circle cx="311.2" cy="190.6" r="4.1"/><circle cx="312.7" cy="189.3" r="4.1"/><circle cx="314.1" cy="188.2" r="4.1"/><circle cx="315.6" cy="188.0" r="4.1"/><circle cx="317.1" cy="185.8" r="4.1"/><circle cx="318.5" cy="184.5" r="4.1"/><circle cx="319.9" cy="182.8" r="4.1"/><circle cx="321.4" cy="184.1" r="4.1"/><circle cx="322.9" cy="182.9" r="4.1"/><circle cx="324.3" cy="182.5" r="4.1"/><circle cx="325.8" cy="182.2" r="4.1"/><circle cx="327.2" cy="181.9" r="4.1"/><circle cx="328.6" cy="181.2" r="4.1"/><circle cx="330.1" cy="181.2" r="4.1"/><circle cx="331.6" cy="179.2" r="4.1"/><circle cx="333.0" cy="178.3" r="4.1"/><circle cx="334.4" cy="178.5" r="4.1"/><circle cx="335.9" cy="177.2" r="4.1"/><circle cx="337.4" cy="179.0" r="4.1"/><circle cx="338.8" cy="177.5" r="4.1"/><circle cx="242.2" cy="219.4" r="4.1"/></g>
<text x="138.4" y="178.6" text-anchor="end" font-size="18" textLength="31.5" lengthAdjust="spacingAndGlyphs">280</text>
<text x="138.4" y="206.3" text-anchor="end" font-size="18" textLength="31.5" lengthAdjust="spacingAndGlyphs">270</text>
<text x="138.4" y="234.0" text-anchor="end" font-size="18" textLength="31.5" lengthAdjust="spacingAndGlyphs">260</text>
</g>
<g>
<path d="M532.40 172.30V231.40M573.50 172.30V231.40M615.40 172.30V231.40M657.40 172.30V231.40M490.40 201.60H698.60" stroke="#dedede" stroke-width="2" fill="none"/>
<path d="M492.10 224.44v2M492.10 218.48v2M492.10 212.52v2M492.10 206.56v2M492.10 194.74v2M492.10 188.88v2M492.10 183.02v2M492.10 177.16v2M497.66 224.44v2M497.66 218.48v2M497.66 212.52v2M497.66 206.56v2M497.66 194.74v2M497.66 188.88v2M497.66 183.02v2M497.66 177.16v2M503.22 224.44v2M503.22 218.48v2M503.22 212.52v2M503.22 206.56v2M503.22 194.74v2M503.22 188.88v2M503.22 183.02v2M503.22 177.16v2M508.78 224.44v2M508.78 218.48v2M508.78 212.52v2M508.78 206.56v2M508.78 194.74v2M508.78 188.88v2M508.78 183.02v2M508.78 177.16v2M514.34 224.44v2M514.34 218.48v2M514.34 212.52v2M514.34 206.56v2M514.34 194.74v2M514.34 188.88v2M514.34 183.02v2M514.34 177.16v2M519.90 224.44v2M519.90 218.48v2M519.90 212.52v2M519.90 206.56v2M519.90 194.74v2M519.90 188.88v2M519.90 183.02v2M519.90 177.16v2M525.46 224.44v2M525.46 218.48v2M525.46 212.52v2M525.46 206.56v2M525.46 194.74v2M525.46 188.88v2M525.46 183.02v2M525.46 177.16v2M531.02 224.44v2M531.02 218.48v2M531.02 212.52v2M531.02 206.56v2M531.02 194.74v2M531.02 188.88v2M531.02 183.02v2M531.02 177.16v2M536.58 224.44v2M536.58 218.48v2M536.58 212.52v2M536.58 206.56v2M536.58 194.74v2M536.58 188.88v2M536.58 183.02v2M536.58 177.16v2M542.14 224.44v2M542.14 218.48v2M542.14 212.52v2M542.14 206.56v2M542.14 194.74v2M542.14 188.88v2M542.14 183.02v2M542.14 177.16v2M547.70 224.44v2M547.70 218.48v2M547.70 212.52v2M547.70 206.56v2M547.70 194.74v2M547.70 188.88v2M547.70 183.02v2M547.70 177.16v2M553.26 224.44v2M553.26 218.48v2M553.26 212.52v2M553.26 206.56v2M553.26 194.74v2M553.26 188.88v2M553.26 183.02v2M553.26 177.16v2M558.82 224.44v2M558.82 218.48v2M558.82 212.52v2M558.82 206.56v2M558.82 194.74v2M558.82 188.88v2M558.82 183.02v2M558.82 177.16v2M564.38 224.44v2M564.38 218.48v2M564.38 212.52v2M564.38 206.56v2M564.38 194.74v2M564.38 188.88v2M564.38 183.02v2M564.38 177.16v2M569.94 224.44v2M569.94 218.48v2M569.94 212.52v2M569.94 206.56v2M569.94 194.74v2M569.94 188.88v2M569.94 183.02v2M569.94 177.16v2M575.50 224.44v2M575.50 218.48v2M575.50 212.52v2M575.50 206.56v2M575.50 194.74v2M575.50 188.88v2M575.50 183.02v2M575.50 177.16v2M581.06 224.44v2M581.06 218.48v2M581.06 212.52v2M581.06 206.56v2M581.06 194.74v2M581.06 188.88v2M581.06 183.02v2M581.06 177.16v2M586.62 224.44v2M586.62 218.48v2M586.62 212.52v2M586.62 206.56v2M586.62 194.74v2M586.62 188.88v2M586.62 183.02v2M586.62 177.16v2M592.18 224.44v2M592.18 218.48v2M592.18 212.52v2M592.18 206.56v2M592.18 194.74v2M592.18 188.88v2M592.18 183.02v2M592.18 177.16v2M597.74 224.44v2M597.74 218.48v2M597.74 212.52v2M597.74 206.56v2M597.74 194.74v2M597.74 188.88v2M597.74 183.02v2M597.74 177.16v2M603.30 224.44v2M603.30 218.48v2M603.30 212.52v2M603.30 206.56v2M603.30 194.74v2M603.30 188.88v2M603.30 183.02v2M603.30 177.16v2M608.86 224.44v2M608.86 218.48v2M608.86 212.52v2M608.86 206.56v2M608.86 194.74v2M608.86 188.88v2M608.86 183.02v2M608.86 177.16v2M614.42 224.44v2M614.42 218.48v2M614.42 212.52v2M614.42 206.56v2M614.42 194.74v2M614.42 188.88v2M614.42 183.02v2M614.42 177.16v2M619.98 224.44v2M619.98 218.48v2M619.98 212.52v2M619.98 206.56v2M619.98 194.74v2M619.98 188.88v2M619.98 183.02v2M619.98 177.16v2M625.54 224.44v2M625.54 218.48v2M625.54 212.52v2M625.54 206.56v2M625.54 194.74v2M625.54 188.88v2M625.54 183.02v2M625.54 177.16v2M631.10 224.44v2M631.10 218.48v2M631.10 212.52v2M631.10 206.56v2M631.10 194.74v2M631.10 188.88v2M631.10 183.02v2M631.10 177.16v2M636.66 224.44v2M636.66 218.48v2M636.66 212.52v2M636.66 206.56v2M636.66 194.74v2M636.66 188.88v2M636.66 183.02v2M636.66 177.16v2M642.22 224.44v2M642.22 218.48v2M642.22 212.52v2M642.22 206.56v2M642.22 194.74v2M642.22 188.88v2M642.22 183.02v2M642.22 177.16v2M647.78 224.44v2M647.78 218.48v2M647.78 212.52v2M647.78 206.56v2M647.78 194.74v2M647.78 188.88v2M647.78 183.02v2M647.78 177.16v2M653.34 224.44v2M653.34 218.48v2M653.34 212.52v2M653.34 206.56v2M653.34 194.74v2M653.34 188.88v2M653.34 183.02v2M653.34 177.16v2M658.90 224.44v2M658.90 218.48v2M658.90 212.52v2M658.90 206.56v2M658.90 194.74v2M658.90 188.88v2M658.90 183.02v2M658.90 177.16v2M664.46 224.44v2M664.46 218.48v2M664.46 212.52v2M664.46 206.56v2M664.46 194.74v2M664.46 188.88v2M664.46 183.02v2M664.46 177.16v2M670.02 224.44v2M670.02 218.48v2M670.02 212.52v2M670.02 206.56v2M670.02 194.74v2M670.02 188.88v2M670.02 183.02v2M670.02 177.16v2M675.58 224.44v2M675.58 218.48v2M675.58 212.52v2M675.58 206.56v2M675.58 194.74v2M675.58 188.88v2M675.58 183.02v2M675.58 177.16v2M681.14 224.44v2M681.14 218.48v2M681.14 212.52v2M681.14 206.56v2M681.14 194.74v2M681.14 188.88v2M681.14 183.02v2M681.14 177.16v2M686.70 224.44v2M686.70 218.48v2M686.70 212.52v2M686.70 206.56v2M686.70 194.74v2M686.70 188.88v2M686.70 183.02v2M686.70 177.16v2M692.26 224.44v2M692.26 218.48v2M692.26 212.52v2M692.26 206.56v2M692.26 194.74v2M692.26 188.88v2M692.26 183.02v2M692.26 177.16v2" stroke="#c2c2c2" stroke-width="1.3" fill="none"/>
<path d="M490.40 172.30H698.60V231.40H490.40ZM490.40 172.30v3.4M490.40 231.40v-3.4M532.40 172.30v3.4M532.40 231.40v-3.4M573.50 172.30v3.4M573.50 231.40v-3.4M615.40 172.30v3.4M615.40 231.40v-3.4M657.40 172.30v3.4M657.40 231.40v-3.4M698.60 172.30v3.4M698.60 231.40v-3.4M490.40 172.30h3.4M698.60 172.30h-3.4M490.40 201.60h3.4M698.60 201.60h-3.4M490.40 231.40h3.4M698.60 231.40h-3.4" stroke="#262626" stroke-width="2.2" fill="none" stroke-linejoin="miter"/>
<g fill="none" stroke="#0072bd" stroke-width="2.0"><circle cx="516.6" cy="231.7" r="4.1"/><circle cx="517.2" cy="231.7" r="4.1"/><circle cx="518.3" cy="231.7" r="4.1"/><circle cx="519.4" cy="231.7" r="4.1"/><circle cx="520.1" cy="231.7" r="4.1"/><circle cx="521.1" cy="231.7" r="4.1"/><circle cx="521.8" cy="231.7" r="4.1"/><circle cx="522.5" cy="231.7" r="4.1"/><circle cx="523.5" cy="231.7" r="4.1"/><circle cx="524.4" cy="231.7" r="4.1"/><circle cx="525.3" cy="231.7" r="4.1"/><circle cx="526.1" cy="231.7" r="4.1"/><circle cx="527.0" cy="231.7" r="4.1"/><circle cx="528.0" cy="231.7" r="4.1"/><circle cx="528.7" cy="231.7" r="4.1"/><circle cx="529.8" cy="231.7" r="4.1"/><circle cx="530.5" cy="231.7" r="4.1"/><circle cx="531.1" cy="231.7" r="4.1"/><circle cx="532.2" cy="231.7" r="4.1"/><circle cx="532.8" cy="231.7" r="4.1"/><circle cx="533.9" cy="231.7" r="4.1"/><circle cx="552.9" cy="231.7" r="4.1"/><circle cx="554.0" cy="231.7" r="4.1"/><circle cx="554.6" cy="231.7" r="4.1"/><circle cx="555.2" cy="231.7" r="4.1"/><circle cx="556.4" cy="231.7" r="4.1"/><circle cx="557.0" cy="231.7" r="4.1"/><circle cx="558.1" cy="231.7" r="4.1"/><circle cx="559.0" cy="231.7" r="4.1"/><circle cx="559.8" cy="231.7" r="4.1"/><circle cx="561.0" cy="231.7" r="4.1"/><circle cx="561.6" cy="231.7" r="4.1"/><circle cx="562.4" cy="231.7" r="4.1"/><circle cx="563.3" cy="231.7" r="4.1"/><circle cx="564.0" cy="231.7" r="4.1"/><circle cx="565.0" cy="231.7" r="4.1"/><circle cx="565.9" cy="231.7" r="4.1"/><circle cx="566.8" cy="231.7" r="4.1"/><circle cx="567.4" cy="231.7" r="4.1"/><circle cx="568.5" cy="231.7" r="4.1"/><circle cx="569.2" cy="231.7" r="4.1"/><circle cx="570.2" cy="231.7" r="4.1"/><circle cx="571.1" cy="231.7" r="4.1"/><circle cx="572.0" cy="231.7" r="4.1"/><circle cx="572.8" cy="231.7" r="4.1"/><circle cx="573.7" cy="231.7" r="4.1"/><circle cx="574.4" cy="231.7" r="4.1"/><circle cx="575.4" cy="231.7" r="4.1"/><circle cx="576.1" cy="231.7" r="4.1"/><circle cx="577.2" cy="231.7" r="4.1"/><circle cx="577.9" cy="231.7" r="4.1"/><circle cx="578.9" cy="231.7" r="4.1"/><circle cx="579.7" cy="231.7" r="4.1"/><circle cx="580.6" cy="231.7" r="4.1"/><circle cx="581.4" cy="231.7" r="4.1"/><circle cx="582.4" cy="231.7" r="4.1"/><circle cx="582.9" cy="231.7" r="4.1"/><circle cx="584.1" cy="231.7" r="4.1"/><circle cx="585.2" cy="231.7" r="4.1"/><circle cx="585.8" cy="231.7" r="4.1"/><circle cx="586.7" cy="231.7" r="4.1"/><circle cx="587.6" cy="231.7" r="4.1"/><circle cx="588.5" cy="231.7" r="4.1"/><circle cx="589.3" cy="231.7" r="4.1"/><circle cx="590.0" cy="231.7" r="4.1"/><circle cx="591.0" cy="231.7" r="4.1"/><circle cx="592.2" cy="231.7" r="4.1"/><circle cx="592.8" cy="231.7" r="4.1"/><circle cx="593.8" cy="231.7" r="4.1"/><circle cx="594.5" cy="231.7" r="4.1"/><circle cx="595.1" cy="231.7" r="4.1"/><circle cx="596.2" cy="231.7" r="4.1"/><circle cx="597.0" cy="231.7" r="4.1"/><circle cx="598.0" cy="231.7" r="4.1"/><circle cx="599.0" cy="231.7" r="4.1"/><circle cx="599.7" cy="231.7" r="4.1"/><circle cx="600.7" cy="231.7" r="4.1"/><circle cx="601.4" cy="231.7" r="4.1"/><circle cx="602.5" cy="231.7" r="4.1"/><circle cx="603.2" cy="231.7" r="4.1"/><circle cx="604.0" cy="231.7" r="4.1"/><circle cx="604.9" cy="231.7" r="4.1"/><circle cx="606.0" cy="231.7" r="4.1"/><circle cx="606.6" cy="231.7" r="4.1"/><circle cx="607.6" cy="231.7" r="4.1"/><circle cx="608.4" cy="231.7" r="4.1"/><circle cx="609.1" cy="231.7" r="4.1"/><circle cx="610.1" cy="231.7" r="4.1"/><circle cx="611.0" cy="231.7" r="4.1"/><circle cx="611.8" cy="231.7" r="4.1"/><circle cx="612.9" cy="231.7" r="4.1"/><circle cx="613.5" cy="231.7" r="4.1"/><circle cx="614.6" cy="231.7" r="4.1"/><circle cx="615.3" cy="231.7" r="4.1"/><circle cx="616.2" cy="231.7" r="4.1"/><circle cx="617.0" cy="231.7" r="4.1"/><circle cx="617.9" cy="231.7" r="4.1"/><circle cx="618.8" cy="231.7" r="4.1"/><circle cx="619.3" cy="231.7" r="4.1"/><circle cx="620.5" cy="231.7" r="4.1"/><circle cx="621.2" cy="231.7" r="4.1"/><circle cx="622.2" cy="231.7" r="4.1"/><circle cx="623.3" cy="231.7" r="4.1"/><circle cx="624.0" cy="231.7" r="4.1"/><circle cx="624.8" cy="231.7" r="4.1"/><circle cx="625.7" cy="231.7" r="4.1"/><circle cx="626.4" cy="231.7" r="4.1"/><circle cx="627.4" cy="231.7" r="4.1"/><circle cx="628.3" cy="231.7" r="4.1"/><circle cx="629.1" cy="231.7" r="4.1"/><circle cx="630.1" cy="231.7" r="4.1"/><circle cx="630.9" cy="231.7" r="4.1"/><circle cx="631.9" cy="231.7" r="4.1"/><circle cx="632.6" cy="231.7" r="4.1"/><circle cx="633.4" cy="231.7" r="4.1"/><circle cx="634.4" cy="231.7" r="4.1"/><circle cx="635.2" cy="231.7" r="4.1"/><circle cx="636.1" cy="231.7" r="4.1"/><circle cx="637.0" cy="231.7" r="4.1"/><circle cx="637.8" cy="231.7" r="4.1"/><circle cx="638.9" cy="231.7" r="4.1"/><circle cx="639.5" cy="231.7" r="4.1"/><circle cx="640.4" cy="231.7" r="4.1"/><circle cx="641.3" cy="231.7" r="4.1"/><circle cx="642.1" cy="231.7" r="4.1"/><circle cx="643.0" cy="231.7" r="4.1"/><circle cx="643.9" cy="231.7" r="4.1"/><circle cx="644.8" cy="231.7" r="4.1"/><circle cx="645.3" cy="231.7" r="4.1"/><circle cx="646.5" cy="231.7" r="4.1"/><circle cx="647.1" cy="231.7" r="4.1"/><circle cx="648.2" cy="231.7" r="4.1"/><circle cx="649.2" cy="231.7" r="4.1"/><circle cx="650.0" cy="231.7" r="4.1"/><circle cx="651.1" cy="231.7" r="4.1"/><circle cx="651.7" cy="231.7" r="4.1"/><circle cx="652.6" cy="231.7" r="4.1"/><circle cx="653.4" cy="231.7" r="4.1"/><circle cx="654.2" cy="231.7" r="4.1"/><circle cx="655.1" cy="231.7" r="4.1"/><circle cx="655.8" cy="231.7" r="4.1"/><circle cx="656.9" cy="231.7" r="4.1"/><circle cx="657.8" cy="231.7" r="4.1"/><circle cx="658.6" cy="231.7" r="4.1"/><circle cx="659.8" cy="231.7" r="4.1"/><circle cx="660.4" cy="231.7" r="4.1"/><circle cx="661.4" cy="231.7" r="4.1"/><circle cx="662.1" cy="231.7" r="4.1"/><circle cx="663.0" cy="231.7" r="4.1"/><circle cx="663.8" cy="231.7" r="4.1"/><circle cx="664.9" cy="231.7" r="4.1"/><circle cx="665.5" cy="231.7" r="4.1"/><circle cx="666.2" cy="231.7" r="4.1"/><circle cx="667.3" cy="231.7" r="4.1"/><circle cx="668.1" cy="231.7" r="4.1"/><circle cx="669.0" cy="231.7" r="4.1"/><circle cx="670.1" cy="231.7" r="4.1"/><circle cx="670.7" cy="231.7" r="4.1"/><circle cx="671.7" cy="231.7" r="4.1"/><circle cx="672.5" cy="231.7" r="4.1"/><circle cx="673.3" cy="231.7" r="4.1"/><circle cx="674.2" cy="231.7" r="4.1"/><circle cx="674.9" cy="231.7" r="4.1"/><circle cx="675.9" cy="231.7" r="4.1"/><circle cx="676.8" cy="231.7" r="4.1"/><circle cx="677.7" cy="231.7" r="4.1"/><circle cx="678.8" cy="231.7" r="4.1"/><circle cx="679.4" cy="231.7" r="4.1"/><circle cx="680.0" cy="231.7" r="4.1"/><circle cx="681.1" cy="231.7" r="4.1"/><circle cx="682.2" cy="231.7" r="4.1"/><circle cx="682.9" cy="231.7" r="4.1"/><circle cx="537.4" cy="207.8" r="4.1"/><circle cx="539.0" cy="217.1" r="4.1"/><circle cx="540.5" cy="222.5" r="4.1"/><circle cx="542.1" cy="198.6" r="4.1"/><circle cx="543.6" cy="196.2" r="4.1"/><circle cx="545.2" cy="193.9" r="4.1"/><circle cx="546.7" cy="191.6" r="4.1"/><circle cx="549.0" cy="189.3" r="4.1"/><circle cx="547.9" cy="180.8" r="4.1"/><circle cx="551.3" cy="222.5" r="4.1"/><circle cx="558.3" cy="221.7" r="4.1"/><circle cx="560.6" cy="224.0" r="4.1"/><circle cx="569.1" cy="224.8" r="4.1"/><circle cx="577.2" cy="216.3" r="4.1"/><circle cx="587.5" cy="210.6" r="4.1"/><circle cx="598.0" cy="207.8" r="4.1"/><circle cx="596.5" cy="224.8" r="4.1"/><circle cx="608.4" cy="222.5" r="4.1"/><circle cx="619.2" cy="224.8" r="4.1"/></g>
<text x="481.8" y="178.6" text-anchor="end" font-size="18" textLength="10.5" lengthAdjust="spacingAndGlyphs">2</text>
<text x="481.8" y="207.9" text-anchor="end" font-size="18" textLength="10.5" lengthAdjust="spacingAndGlyphs">1</text>
<text x="481.8" y="237.7" text-anchor="end" font-size="18" textLength="10.5" lengthAdjust="spacingAndGlyphs">0</text>
</g>
<g>
<path d="M188.30 299.30V359.40M230.50 299.30V359.40M272.40 299.30V359.40M313.30 299.30V359.40M147.30 329.40H355.40" stroke="#dedede" stroke-width="2" fill="none"/>
<path d="M149.00 352.40v2M149.00 346.40v2M149.00 340.40v2M149.00 334.40v2M149.00 322.38v2M149.00 316.36v2M149.00 310.34v2M149.00 304.32v2M154.56 352.40v2M154.56 346.40v2M154.56 340.40v2M154.56 334.40v2M154.56 322.38v2M154.56 316.36v2M154.56 310.34v2M154.56 304.32v2M160.12 352.40v2M160.12 346.40v2M160.12 340.40v2M160.12 334.40v2M160.12 322.38v2M160.12 316.36v2M160.12 310.34v2M160.12 304.32v2M165.68 352.40v2M165.68 346.40v2M165.68 340.40v2M165.68 334.40v2M165.68 322.38v2M165.68 316.36v2M165.68 310.34v2M165.68 304.32v2M171.24 352.40v2M171.24 346.40v2M171.24 340.40v2M171.24 334.40v2M171.24 322.38v2M171.24 316.36v2M171.24 310.34v2M171.24 304.32v2M176.80 352.40v2M176.80 346.40v2M176.80 340.40v2M176.80 334.40v2M176.80 322.38v2M176.80 316.36v2M176.80 310.34v2M176.80 304.32v2M182.36 352.40v2M182.36 346.40v2M182.36 340.40v2M182.36 334.40v2M182.36 322.38v2M182.36 316.36v2M182.36 310.34v2M182.36 304.32v2M187.92 352.40v2M187.92 346.40v2M187.92 340.40v2M187.92 334.40v2M187.92 322.38v2M187.92 316.36v2M187.92 310.34v2M187.92 304.32v2M193.48 352.40v2M193.48 346.40v2M193.48 340.40v2M193.48 334.40v2M193.48 322.38v2M193.48 316.36v2M193.48 310.34v2M193.48 304.32v2M199.04 352.40v2M199.04 346.40v2M199.04 340.40v2M199.04 334.40v2M199.04 322.38v2M199.04 316.36v2M199.04 310.34v2M199.04 304.32v2M204.60 352.40v2M204.60 346.40v2M204.60 340.40v2M204.60 334.40v2M204.60 322.38v2M204.60 316.36v2M204.60 310.34v2M204.60 304.32v2M210.16 352.40v2M210.16 346.40v2M210.16 340.40v2M210.16 334.40v2M210.16 322.38v2M210.16 316.36v2M210.16 310.34v2M210.16 304.32v2M215.72 352.40v2M215.72 346.40v2M215.72 340.40v2M215.72 334.40v2M215.72 322.38v2M215.72 316.36v2M215.72 310.34v2M215.72 304.32v2M221.28 352.40v2M221.28 346.40v2M221.28 340.40v2M221.28 334.40v2M221.28 322.38v2M221.28 316.36v2M221.28 310.34v2M221.28 304.32v2M226.84 352.40v2M226.84 346.40v2M226.84 340.40v2M226.84 334.40v2M226.84 322.38v2M226.84 316.36v2M226.84 310.34v2M226.84 304.32v2M232.40 352.40v2M232.40 346.40v2M232.40 340.40v2M232.40 334.40v2M232.40 322.38v2M232.40 316.36v2M232.40 310.34v2M232.40 304.32v2M237.96 352.40v2M237.96 346.40v2M237.96 340.40v2M237.96 334.40v2M237.96 322.38v2M237.96 316.36v2M237.96 310.34v2M237.96 304.32v2M243.52 352.40v2M243.52 346.40v2M243.52 340.40v2M243.52 334.40v2M243.52 322.38v2M243.52 316.36v2M243.52 310.34v2M243.52 304.32v2M249.08 352.40v2M249.08 346.40v2M249.08 340.40v2M249.08 334.40v2M249.08 322.38v2M249.08 316.36v2M249.08 310.34v2M249.08 304.32v2M254.64 352.40v2M254.64 346.40v2M254.64 340.40v2M254.64 334.40v2M254.64 322.38v2M254.64 316.36v2M254.64 310.34v2M254.64 304.32v2M260.20 352.40v2M260.20 346.40v2M260.20 340.40v2M260.20 334.40v2M260.20 322.38v2M260.20 316.36v2M260.20 310.34v2M260.20 304.32v2M265.76 352.40v2M265.76 346.40v2M265.76 340.40v2M265.76 334.40v2M265.76 322.38v2M265.76 316.36v2M265.76 310.34v2M265.76 304.32v2M271.32 352.40v2M271.32 346.40v2M271.32 340.40v2M271.32 334.40v2M271.32 322.38v2M271.32 316.36v2M271.32 310.34v2M271.32 304.32v2M276.88 352.40v2M276.88 346.40v2M276.88 340.40v2M276.88 334.40v2M276.88 322.38v2M276.88 316.36v2M276.88 310.34v2M276.88 304.32v2M282.44 352.40v2M282.44 346.40v2M282.44 340.40v2M282.44 334.40v2M282.44 322.38v2M282.44 316.36v2M282.44 310.34v2M282.44 304.32v2M288.00 352.40v2M288.00 346.40v2M288.00 340.40v2M288.00 334.40v2M288.00 322.38v2M288.00 316.36v2M288.00 310.34v2M288.00 304.32v2M293.56 352.40v2M293.56 346.40v2M293.56 340.40v2M293.56 334.40v2M293.56 322.38v2M293.56 316.36v2M293.56 310.34v2M293.56 304.32v2M299.12 352.40v2M299.12 346.40v2M299.12 340.40v2M299.12 334.40v2M299.12 322.38v2M299.12 316.36v2M299.12 310.34v2M299.12 304.32v2M304.68 352.40v2M304.68 346.40v2M304.68 340.40v2M304.68 334.40v2M304.68 322.38v2M304.68 316.36v2M304.68 310.34v2M304.68 304.32v2M310.24 352.40v2M310.24 346.40v2M310.24 340.40v2M310.24 334.40v2M310.24 322.38v2M310.24 316.36v2M310.24 310.34v2M310.24 304.32v2M315.80 352.40v2M315.80 346.40v2M315.80 340.40v2M315.80 334.40v2M315.80 322.38v2M315.80 316.36v2M315.80 310.34v2M315.80 304.32v2M321.36 352.40v2M321.36 346.40v2M321.36 340.40v2M321.36 334.40v2M321.36 322.38v2M321.36 316.36v2M321.36 310.34v2M321.36 304.32v2M326.92 352.40v2M326.92 346.40v2M326.92 340.40v2M326.92 334.40v2M326.92 322.38v2M326.92 316.36v2M326.92 310.34v2M326.92 304.32v2M332.48 352.40v2M332.48 346.40v2M332.48 340.40v2M332.48 334.40v2M332.48 322.38v2M332.48 316.36v2M332.48 310.34v2M332.48 304.32v2M338.04 352.40v2M338.04 346.40v2M338.04 340.40v2M338.04 334.40v2M338.04 322.38v2M338.04 316.36v2M338.04 310.34v2M338.04 304.32v2M343.60 352.40v2M343.60 346.40v2M343.60 340.40v2M343.60 334.40v2M343.60 322.38v2M343.60 316.36v2M343.60 310.34v2M343.60 304.32v2M349.16 352.40v2M349.16 346.40v2M349.16 340.40v2M349.16 334.40v2M349.16 322.38v2M349.16 316.36v2M349.16 310.34v2M349.16 304.32v2" stroke="#c2c2c2" stroke-width="1.3" fill="none"/>
<path d="M147.30 299.30H355.40V359.40H147.30ZM147.30 299.30v3.4M147.30 359.40v-3.4M188.30 299.30v3.4M188.30 359.40v-3.4M230.50 299.30v3.4M230.50 359.40v-3.4M272.40 299.30v3.4M272.40 359.40v-3.4M313.30 299.30v3.4M313.30 359.40v-3.4M355.40 299.30v3.4M355.40 359.40v-3.4M147.30 299.30h3.4M355.40 299.30h-3.4M147.30 329.40h3.4M355.40 329.40h-3.4M147.30 359.40h3.4M355.40 359.40h-3.4" stroke="#262626" stroke-width="2.2" fill="none" stroke-linejoin="miter"/>
<g fill="none" stroke="#0072bd" stroke-width="2.0"><circle cx="173.5" cy="325.9" r="4.1"/><circle cx="174.9" cy="325.6" r="4.1"/><circle cx="175.8" cy="326.4" r="4.1"/><circle cx="176.8" cy="327.3" r="4.1"/><circle cx="178.2" cy="327.4" r="4.1"/><circle cx="179.3" cy="328.2" r="4.1"/><circle cx="180.5" cy="329.0" r="4.1"/><circle cx="181.8" cy="330.0" r="4.1"/><circle cx="182.8" cy="330.5" r="4.1"/><circle cx="183.8" cy="331.0" r="4.1"/><circle cx="185.4" cy="332.8" r="4.1"/><circle cx="187.0" cy="339.0" r="4.1"/><circle cx="189.0" cy="347.5" r="4.1"/><circle cx="190.5" cy="346.0" r="4.1"/><circle cx="193.6" cy="354.4" r="4.1"/><circle cx="195.1" cy="351.3" r="4.1"/><circle cx="196.7" cy="347.5" r="4.1"/><circle cx="198.2" cy="343.6" r="4.1"/><circle cx="199.8" cy="339.0" r="4.1"/><circle cx="201.3" cy="335.1" r="4.1"/><circle cx="202.8" cy="330.5" r="4.1"/><circle cx="204.4" cy="325.9" r="4.1"/><circle cx="205.9" cy="322.0" r="4.1"/><circle cx="207.5" cy="316.6" r="4.1"/><circle cx="209.0" cy="309.7" r="4.1"/><circle cx="210.1" cy="309.4" r="4.1"/><circle cx="211.3" cy="308.1" r="4.1"/><circle cx="212.2" cy="307.4" r="4.1"/><circle cx="213.6" cy="305.8" r="4.1"/><circle cx="214.9" cy="304.6" r="4.1"/><circle cx="216.0" cy="303.5" r="4.1"/><circle cx="217.8" cy="302.7" r="4.1"/><circle cx="219.0" cy="302.7" r="4.1"/><circle cx="220.1" cy="302.6" r="4.1"/><circle cx="221.8" cy="301.2" r="4.1"/><circle cx="222.8" cy="302.0" r="4.1"/><circle cx="223.7" cy="304.3" r="4.1"/><circle cx="225.2" cy="305.8" r="4.1"/><circle cx="226.8" cy="305.8" r="4.1"/><circle cx="228.1" cy="305.8" r="4.1"/><circle cx="229.5" cy="306.6" r="4.1"/><circle cx="229.0" cy="312.8" r="4.1"/><circle cx="231.4" cy="321.2" r="4.1"/><circle cx="233.7" cy="318.2" r="4.1"/><circle cx="236.0" cy="315.1" r="4.1"/><circle cx="238.3" cy="331.3" r="4.1"/><circle cx="239.1" cy="320.5" r="4.1"/><circle cx="241.4" cy="322.0" r="4.1"/><circle cx="243.7" cy="321.2" r="4.1"/><circle cx="245.3" cy="331.3" r="4.1"/><circle cx="246.0" cy="329.7" r="4.1"/><circle cx="248.3" cy="346.7" r="4.1"/><circle cx="251.4" cy="344.4" r="4.1"/><circle cx="254.5" cy="340.5" r="4.1"/><circle cx="255.5" cy="342.1" r="4.1"/><circle cx="256.8" cy="345.2" r="4.1"/><circle cx="258.6" cy="350.6" r="4.1"/><circle cx="259.5" cy="351.2" r="4.1"/><circle cx="260.4" cy="352.1" r="4.1"/><circle cx="261.4" cy="350.5" r="4.1"/><circle cx="262.7" cy="349.8" r="4.1"/><circle cx="263.8" cy="348.6" r="4.1"/><circle cx="265.0" cy="348.2" r="4.1"/><circle cx="266.3" cy="347.1" r="4.1"/><circle cx="268.1" cy="346.7" r="4.1"/><circle cx="269.7" cy="346.8" r="4.1"/><circle cx="271.2" cy="345.9" r="4.1"/><circle cx="272.6" cy="345.8" r="4.1"/><circle cx="274.3" cy="345.2" r="4.1"/><circle cx="276.1" cy="346.7" r="4.1"/><circle cx="277.4" cy="346.7" r="4.1"/><circle cx="278.9" cy="347.2" r="4.1"/><circle cx="280.5" cy="349.0" r="4.1"/><circle cx="281.8" cy="350.1" r="4.1"/><circle cx="282.8" cy="350.6" r="4.1"/><circle cx="284.3" cy="346.7" r="4.1"/><circle cx="285.4" cy="342.8" r="4.1"/><circle cx="286.6" cy="338.2" r="4.1"/><circle cx="287.9" cy="333.6" r="4.1"/><circle cx="289.0" cy="329.0" r="4.1"/><circle cx="290.0" cy="325.1" r="4.1"/><circle cx="291.3" cy="322.0" r="4.1"/><circle cx="292.8" cy="319.7" r="4.1"/><circle cx="294.4" cy="317.4" r="4.1"/><circle cx="296.7" cy="315.8" r="4.1"/><circle cx="298.2" cy="315.1" r="4.1"/><circle cx="299.8" cy="328.2" r="4.1"/><circle cx="301.8" cy="340.5" r="4.1"/><circle cx="303.6" cy="355.2" r="4.1"/><circle cx="304.7" cy="355.2" r="4.1"/><circle cx="305.3" cy="355.2" r="4.1"/><circle cx="306.1" cy="355.2" r="4.1"/><circle cx="307.1" cy="355.2" r="4.1"/><circle cx="308.1" cy="355.2" r="4.1"/><circle cx="308.8" cy="355.2" r="4.1"/><circle cx="309.8" cy="355.2" r="4.1"/><circle cx="310.5" cy="355.2" r="4.1"/><circle cx="311.3" cy="355.2" r="4.1"/><circle cx="312.3" cy="355.2" r="4.1"/><circle cx="313.2" cy="355.2" r="4.1"/><circle cx="314.0" cy="355.2" r="4.1"/><circle cx="315.1" cy="355.2" r="4.1"/><circle cx="315.7" cy="355.2" r="4.1"/><circle cx="316.8" cy="355.2" r="4.1"/><circle cx="317.5" cy="355.2" r="4.1"/><circle cx="318.3" cy="355.2" r="4.1"/><circle cx="319.2" cy="355.2" r="4.1"/><circle cx="320.1" cy="355.2" r="4.1"/><circle cx="320.9" cy="355.2" r="4.1"/><circle cx="321.5" cy="355.2" r="4.1"/><circle cx="322.7" cy="355.2" r="4.1"/><circle cx="323.4" cy="355.2" r="4.1"/><circle cx="324.4" cy="355.2" r="4.1"/><circle cx="325.1" cy="353.4" r="4.1"/><circle cx="326.0" cy="350.6" r="4.1"/><circle cx="327.5" cy="338.2" r="4.1"/><circle cx="329.5" cy="330.5" r="4.1"/><circle cx="331.4" cy="334.4" r="4.1"/><circle cx="332.9" cy="355.2" r="4.1"/><circle cx="335.2" cy="346.7" r="4.1"/><circle cx="336.8" cy="328.2" r="4.1"/><circle cx="338.3" cy="352.1" r="4.1"/><circle cx="339.9" cy="342.8" r="4.1"/></g>
<text x="138.4" y="305.6" text-anchor="end" font-size="18" textLength="42.0" lengthAdjust="spacingAndGlyphs">2000</text>
<text x="138.4" y="335.7" text-anchor="end" font-size="18" textLength="42.0" lengthAdjust="spacingAndGlyphs">1000</text>
<text x="138.4" y="365.7" text-anchor="end" font-size="18" textLength="10.5" lengthAdjust="spacingAndGlyphs">0</text>
</g>
<g>
<path d="M532.40 299.30V359.40M573.50 299.30V359.40M615.40 299.30V359.40M657.40 299.30V359.40M490.40 324.40H698.60M490.40 349.30H698.60" stroke="#dedede" stroke-width="2" fill="none"/>
<path d="M492.10 358.26v2M492.10 353.28v2M492.10 343.32v2M492.10 338.34v2M492.10 333.36v2M492.10 328.38v2M492.10 318.38v2M492.10 313.36v2M492.10 308.34v2M492.10 303.32v2M497.66 358.26v2M497.66 353.28v2M497.66 343.32v2M497.66 338.34v2M497.66 333.36v2M497.66 328.38v2M497.66 318.38v2M497.66 313.36v2M497.66 308.34v2M497.66 303.32v2M503.22 358.26v2M503.22 353.28v2M503.22 343.32v2M503.22 338.34v2M503.22 333.36v2M503.22 328.38v2M503.22 318.38v2M503.22 313.36v2M503.22 308.34v2M503.22 303.32v2M508.78 358.26v2M508.78 353.28v2M508.78 343.32v2M508.78 338.34v2M508.78 333.36v2M508.78 328.38v2M508.78 318.38v2M508.78 313.36v2M508.78 308.34v2M508.78 303.32v2M514.34 358.26v2M514.34 353.28v2M514.34 343.32v2M514.34 338.34v2M514.34 333.36v2M514.34 328.38v2M514.34 318.38v2M514.34 313.36v2M514.34 308.34v2M514.34 303.32v2M519.90 358.26v2M519.90 353.28v2M519.90 343.32v2M519.90 338.34v2M519.90 333.36v2M519.90 328.38v2M519.90 318.38v2M519.90 313.36v2M519.90 308.34v2M519.90 303.32v2M525.46 358.26v2M525.46 353.28v2M525.46 343.32v2M525.46 338.34v2M525.46 333.36v2M525.46 328.38v2M525.46 318.38v2M525.46 313.36v2M525.46 308.34v2M525.46 303.32v2M531.02 358.26v2M531.02 353.28v2M531.02 343.32v2M531.02 338.34v2M531.02 333.36v2M531.02 328.38v2M531.02 318.38v2M531.02 313.36v2M531.02 308.34v2M531.02 303.32v2M536.58 358.26v2M536.58 353.28v2M536.58 343.32v2M536.58 338.34v2M536.58 333.36v2M536.58 328.38v2M536.58 318.38v2M536.58 313.36v2M536.58 308.34v2M536.58 303.32v2M542.14 358.26v2M542.14 353.28v2M542.14 343.32v2M542.14 338.34v2M542.14 333.36v2M542.14 328.38v2M542.14 318.38v2M542.14 313.36v2M542.14 308.34v2M542.14 303.32v2M547.70 358.26v2M547.70 353.28v2M547.70 343.32v2M547.70 338.34v2M547.70 333.36v2M547.70 328.38v2M547.70 318.38v2M547.70 313.36v2M547.70 308.34v2M547.70 303.32v2M553.26 358.26v2M553.26 353.28v2M553.26 343.32v2M553.26 338.34v2M553.26 333.36v2M553.26 328.38v2M553.26 318.38v2M553.26 313.36v2M553.26 308.34v2M553.26 303.32v2M558.82 358.26v2M558.82 353.28v2M558.82 343.32v2M558.82 338.34v2M558.82 333.36v2M558.82 328.38v2M558.82 318.38v2M558.82 313.36v2M558.82 308.34v2M558.82 303.32v2M564.38 358.26v2M564.38 353.28v2M564.38 343.32v2M564.38 338.34v2M564.38 333.36v2M564.38 328.38v2M564.38 318.38v2M564.38 313.36v2M564.38 308.34v2M564.38 303.32v2M569.94 358.26v2M569.94 353.28v2M569.94 343.32v2M569.94 338.34v2M569.94 333.36v2M569.94 328.38v2M569.94 318.38v2M569.94 313.36v2M569.94 308.34v2M569.94 303.32v2M575.50 358.26v2M575.50 353.28v2M575.50 343.32v2M575.50 338.34v2M575.50 333.36v2M575.50 328.38v2M575.50 318.38v2M575.50 313.36v2M575.50 308.34v2M575.50 303.32v2M581.06 358.26v2M581.06 353.28v2M581.06 343.32v2M581.06 338.34v2M581.06 333.36v2M581.06 328.38v2M581.06 318.38v2M581.06 313.36v2M581.06 308.34v2M581.06 303.32v2M586.62 358.26v2M586.62 353.28v2M586.62 343.32v2M586.62 338.34v2M586.62 333.36v2M586.62 328.38v2M586.62 318.38v2M586.62 313.36v2M586.62 308.34v2M586.62 303.32v2M592.18 358.26v2M592.18 353.28v2M592.18 343.32v2M592.18 338.34v2M592.18 333.36v2M592.18 328.38v2M592.18 318.38v2M592.18 313.36v2M592.18 308.34v2M592.18 303.32v2M597.74 358.26v2M597.74 353.28v2M597.74 343.32v2M597.74 338.34v2M597.74 333.36v2M597.74 328.38v2M597.74 318.38v2M597.74 313.36v2M597.74 308.34v2M597.74 303.32v2M603.30 358.26v2M603.30 353.28v2M603.30 343.32v2M603.30 338.34v2M603.30 333.36v2M603.30 328.38v2M603.30 318.38v2M603.30 313.36v2M603.30 308.34v2M603.30 303.32v2M608.86 358.26v2M608.86 353.28v2M608.86 343.32v2M608.86 338.34v2M608.86 333.36v2M608.86 328.38v2M608.86 318.38v2M608.86 313.36v2M608.86 308.34v2M608.86 303.32v2M614.42 358.26v2M614.42 353.28v2M614.42 343.32v2M614.42 338.34v2M614.42 333.36v2M614.42 328.38v2M614.42 318.38v2M614.42 313.36v2M614.42 308.34v2M614.42 303.32v2M619.98 358.26v2M619.98 353.28v2M619.98 343.32v2M619.98 338.34v2M619.98 333.36v2M619.98 328.38v2M619.98 318.38v2M619.98 313.36v2M619.98 308.34v2M619.98 303.32v2M625.54 358.26v2M625.54 353.28v2M625.54 343.32v2M625.54 338.34v2M625.54 333.36v2M625.54 328.38v2M625.54 318.38v2M625.54 313.36v2M625.54 308.34v2M625.54 303.32v2M631.10 358.26v2M631.10 353.28v2M631.10 343.32v2M631.10 338.34v2M631.10 333.36v2M631.10 328.38v2M631.10 318.38v2M631.10 313.36v2M631.10 308.34v2M631.10 303.32v2M636.66 358.26v2M636.66 353.28v2M636.66 343.32v2M636.66 338.34v2M636.66 333.36v2M636.66 328.38v2M636.66 318.38v2M636.66 313.36v2M636.66 308.34v2M636.66 303.32v2M642.22 358.26v2M642.22 353.28v2M642.22 343.32v2M642.22 338.34v2M642.22 333.36v2M642.22 328.38v2M642.22 318.38v2M642.22 313.36v2M642.22 308.34v2M642.22 303.32v2M647.78 358.26v2M647.78 353.28v2M647.78 343.32v2M647.78 338.34v2M647.78 333.36v2M647.78 328.38v2M647.78 318.38v2M647.78 313.36v2M647.78 308.34v2M647.78 303.32v2M653.34 358.26v2M653.34 353.28v2M653.34 343.32v2M653.34 338.34v2M653.34 333.36v2M653.34 328.38v2M653.34 318.38v2M653.34 313.36v2M653.34 308.34v2M653.34 303.32v2M658.90 358.26v2M658.90 353.28v2M658.90 343.32v2M658.90 338.34v2M658.90 333.36v2M658.90 328.38v2M658.90 318.38v2M658.90 313.36v2M658.90 308.34v2M658.90 303.32v2M664.46 358.26v2M664.46 353.28v2M664.46 343.32v2M664.46 338.34v2M664.46 333.36v2M664.46 328.38v2M664.46 318.38v2M664.46 313.36v2M664.46 308.34v2M664.46 303.32v2M670.02 358.26v2M670.02 353.28v2M670.02 343.32v2M670.02 338.34v2M670.02 333.36v2M670.02 328.38v2M670.02 318.38v2M670.02 313.36v2M670.02 308.34v2M670.02 303.32v2M675.58 358.26v2M675.58 353.28v2M675.58 343.32v2M675.58 338.34v2M675.58 333.36v2M675.58 328.38v2M675.58 318.38v2M675.58 313.36v2M675.58 308.34v2M675.58 303.32v2M681.14 358.26v2M681.14 353.28v2M681.14 343.32v2M681.14 338.34v2M681.14 333.36v2M681.14 328.38v2M681.14 318.38v2M681.14 313.36v2M681.14 308.34v2M681.14 303.32v2M686.70 358.26v2M686.70 353.28v2M686.70 343.32v2M686.70 338.34v2M686.70 333.36v2M686.70 328.38v2M686.70 318.38v2M686.70 313.36v2M686.70 308.34v2M686.70 303.32v2M692.26 358.26v2M692.26 353.28v2M692.26 343.32v2M692.26 338.34v2M692.26 333.36v2M692.26 328.38v2M692.26 318.38v2M692.26 313.36v2M692.26 308.34v2M692.26 303.32v2" stroke="#c2c2c2" stroke-width="1.3" fill="none"/>
<path d="M490.40 299.30H698.60V359.40H490.40ZM490.40 299.30v3.4M490.40 359.40v-3.4M532.40 299.30v3.4M532.40 359.40v-3.4M573.50 299.30v3.4M573.50 359.40v-3.4M615.40 299.30v3.4M615.40 359.40v-3.4M657.40 299.30v3.4M657.40 359.40v-3.4M698.60 299.30v3.4M698.60 359.40v-3.4M490.40 299.30h3.4M698.60 299.30h-3.4M490.40 324.40h3.4M698.60 324.40h-3.4M490.40 349.30h3.4M698.60 349.30h-3.4" stroke="#262626" stroke-width="2.2" fill="none" stroke-linejoin="miter"/>
<g fill="none" stroke="#0072bd" stroke-width="2.0"><circle cx="515.9" cy="329.7" r="4.1"/><circle cx="516.8" cy="327.6" r="4.1"/><circle cx="517.4" cy="326.6" r="4.1"/><circle cx="518.0" cy="325.5" r="4.1"/><circle cx="518.9" cy="323.6" r="4.1"/><circle cx="519.8" cy="322.0" r="4.1"/><circle cx="520.8" cy="320.5" r="4.1"/><circle cx="522.0" cy="318.8" r="4.1"/><circle cx="522.8" cy="316.6" r="4.1"/><circle cx="523.3" cy="317.5" r="4.1"/><circle cx="524.3" cy="319.7" r="4.1"/><circle cx="525.1" cy="322.2" r="4.1"/><circle cx="525.9" cy="323.6" r="4.1"/><circle cx="528.2" cy="329.7" r="4.1"/><circle cx="529.0" cy="330.9" r="4.1"/><circle cx="530.5" cy="331.3" r="4.1"/><circle cx="531.8" cy="328.9" r="4.1"/><circle cx="532.8" cy="326.6" r="4.1"/><circle cx="535.1" cy="332.8" r="4.1"/><circle cx="536.5" cy="333.5" r="4.1"/><circle cx="537.4" cy="335.1" r="4.1"/><circle cx="539.0" cy="342.1" r="4.1"/><circle cx="539.9" cy="343.9" r="4.1"/><circle cx="541.3" cy="344.4" r="4.1"/><circle cx="544.4" cy="351.3" r="4.1"/><circle cx="545.6" cy="352.5" r="4.1"/><circle cx="546.7" cy="355.2" r="4.1"/><circle cx="548.4" cy="354.9" r="4.1"/><circle cx="549.9" cy="354.6" r="4.1"/><circle cx="551.4" cy="356.9" r="4.1"/><circle cx="552.9" cy="355.0" r="4.1"/><circle cx="554.4" cy="356.5" r="4.1"/><circle cx="555.9" cy="355.4" r="4.1"/><circle cx="557.4" cy="353.8" r="4.1"/><circle cx="558.9" cy="355.2" r="4.1"/><circle cx="560.4" cy="353.5" r="4.1"/><circle cx="561.9" cy="355.3" r="4.1"/><circle cx="563.4" cy="354.0" r="4.1"/><circle cx="564.9" cy="354.2" r="4.1"/><circle cx="566.4" cy="355.6" r="4.1"/><circle cx="567.9" cy="356.8" r="4.1"/><circle cx="569.4" cy="353.5" r="4.1"/><circle cx="570.9" cy="353.4" r="4.1"/><circle cx="572.4" cy="355.4" r="4.1"/><circle cx="573.9" cy="357.5" r="4.1"/><circle cx="575.4" cy="356.7" r="4.1"/><circle cx="576.9" cy="356.8" r="4.1"/><circle cx="578.4" cy="358.7" r="4.1"/><circle cx="579.9" cy="353.7" r="4.1"/><circle cx="581.4" cy="355.7" r="4.1"/><circle cx="582.9" cy="352.9" r="4.1"/><circle cx="584.4" cy="352.6" r="4.1"/><circle cx="585.9" cy="352.7" r="4.1"/><circle cx="587.4" cy="352.7" r="4.1"/><circle cx="588.9" cy="352.5" r="4.1"/><circle cx="590.4" cy="348.7" r="4.1"/><circle cx="591.9" cy="350.8" r="4.1"/><circle cx="593.4" cy="351.5" r="4.1"/><circle cx="594.9" cy="350.4" r="4.1"/><circle cx="596.4" cy="349.8" r="4.1"/><circle cx="597.9" cy="346.5" r="4.1"/><circle cx="599.4" cy="345.2" r="4.1"/><circle cx="600.9" cy="348.0" r="4.1"/><circle cx="602.4" cy="353.0" r="4.1"/><circle cx="603.9" cy="351.2" r="4.1"/><circle cx="605.4" cy="348.9" r="4.1"/><circle cx="606.9" cy="348.2" r="4.1"/><circle cx="608.4" cy="346.3" r="4.1"/><circle cx="609.9" cy="344.2" r="4.1"/><circle cx="611.4" cy="345.0" r="4.1"/><circle cx="612.9" cy="343.8" r="4.1"/><circle cx="614.4" cy="341.1" r="4.1"/><circle cx="615.9" cy="342.6" r="4.1"/><circle cx="617.4" cy="342.7" r="4.1"/><circle cx="618.9" cy="344.3" r="4.1"/><circle cx="620.4" cy="342.8" r="4.1"/><circle cx="621.9" cy="340.0" r="4.1"/><circle cx="623.4" cy="341.9" r="4.1"/><circle cx="624.9" cy="339.8" r="4.1"/><circle cx="626.4" cy="342.9" r="4.1"/><circle cx="627.9" cy="344.9" r="4.1"/><circle cx="629.4" cy="341.0" r="4.1"/><circle cx="632.8" cy="335.9" r="4.1"/><circle cx="635.1" cy="331.3" r="4.1"/><circle cx="636.2" cy="328.2" r="4.1"/><circle cx="637.4" cy="317.4" r="4.1"/><circle cx="639.0" cy="309.7" r="4.1"/><circle cx="641.3" cy="307.4" r="4.1"/><circle cx="644.4" cy="306.6" r="4.1"/><circle cx="646.7" cy="308.1" r="4.1"/><circle cx="649.0" cy="312.0" r="4.1"/><circle cx="651.3" cy="318.9" r="4.1"/><circle cx="653.6" cy="323.6" r="4.1"/><circle cx="655.2" cy="331.3" r="4.1"/><circle cx="657.5" cy="321.2" r="4.1"/><circle cx="660.6" cy="324.3" r="4.1"/><circle cx="662.9" cy="319.7" r="4.1"/><circle cx="665.2" cy="323.6" r="4.1"/><circle cx="668.3" cy="322.8" r="4.1"/><circle cx="670.6" cy="327.4" r="4.1"/><circle cx="672.9" cy="326.6" r="4.1"/><circle cx="674.5" cy="318.2" r="4.1"/><circle cx="676.0" cy="313.5" r="4.1"/><circle cx="677.6" cy="309.7" r="4.1"/><circle cx="679.4" cy="306.6" r="4.1"/><circle cx="681.4" cy="302.0" r="4.1"/><circle cx="683.0" cy="304.3" r="4.1"/><circle cx="642.8" cy="307.0" r="4.1"/><circle cx="648.0" cy="310.0" r="4.1"/><circle cx="659.0" cy="323.0" r="4.1"/><circle cx="664.0" cy="322.0" r="4.1"/><circle cx="667.0" cy="324.0" r="4.1"/></g>
<text x="481.8" y="305.6" text-anchor="end" font-size="18" textLength="10.5" lengthAdjust="spacingAndGlyphs">4</text>
<text x="481.8" y="330.7" text-anchor="end" font-size="18" textLength="10.5" lengthAdjust="spacingAndGlyphs">3</text>
<text x="481.8" y="355.6" text-anchor="end" font-size="18" textLength="10.5" lengthAdjust="spacingAndGlyphs">2</text>
</g>
<g>
<path d="M188.30 427.30V487.30M230.50 427.30V487.30M272.40 427.30V487.30M313.30 427.30V487.30M147.30 457.50H355.40" stroke="#dedede" stroke-width="2" fill="none"/>
<path d="M149.00 480.34v2M149.00 474.38v2M149.00 468.42v2M149.00 462.46v2M149.00 450.46v2M149.00 444.42v2M149.00 438.38v2M149.00 432.34v2M154.56 480.34v2M154.56 474.38v2M154.56 468.42v2M154.56 462.46v2M154.56 450.46v2M154.56 444.42v2M154.56 438.38v2M154.56 432.34v2M160.12 480.34v2M160.12 474.38v2M160.12 468.42v2M160.12 462.46v2M160.12 450.46v2M160.12 444.42v2M160.12 438.38v2M160.12 432.34v2M165.68 480.34v2M165.68 474.38v2M165.68 468.42v2M165.68 462.46v2M165.68 450.46v2M165.68 444.42v2M165.68 438.38v2M165.68 432.34v2M171.24 480.34v2M171.24 474.38v2M171.24 468.42v2M171.24 462.46v2M171.24 450.46v2M171.24 444.42v2M171.24 438.38v2M171.24 432.34v2M176.80 480.34v2M176.80 474.38v2M176.80 468.42v2M176.80 462.46v2M176.80 450.46v2M176.80 444.42v2M176.80 438.38v2M176.80 432.34v2M182.36 480.34v2M182.36 474.38v2M182.36 468.42v2M182.36 462.46v2M182.36 450.46v2M182.36 444.42v2M182.36 438.38v2M182.36 432.34v2M187.92 480.34v2M187.92 474.38v2M187.92 468.42v2M187.92 462.46v2M187.92 450.46v2M187.92 444.42v2M187.92 438.38v2M187.92 432.34v2M193.48 480.34v2M193.48 474.38v2M193.48 468.42v2M193.48 462.46v2M193.48 450.46v2M193.48 444.42v2M193.48 438.38v2M193.48 432.34v2M199.04 480.34v2M199.04 474.38v2M199.04 468.42v2M199.04 462.46v2M199.04 450.46v2M199.04 444.42v2M199.04 438.38v2M199.04 432.34v2M204.60 480.34v2M204.60 474.38v2M204.60 468.42v2M204.60 462.46v2M204.60 450.46v2M204.60 444.42v2M204.60 438.38v2M204.60 432.34v2M210.16 480.34v2M210.16 474.38v2M210.16 468.42v2M210.16 462.46v2M210.16 450.46v2M210.16 444.42v2M210.16 438.38v2M210.16 432.34v2M215.72 480.34v2M215.72 474.38v2M215.72 468.42v2M215.72 462.46v2M215.72 450.46v2M215.72 444.42v2M215.72 438.38v2M215.72 432.34v2M221.28 480.34v2M221.28 474.38v2M221.28 468.42v2M221.28 462.46v2M221.28 450.46v2M221.28 444.42v2M221.28 438.38v2M221.28 432.34v2M226.84 480.34v2M226.84 474.38v2M226.84 468.42v2M226.84 462.46v2M226.84 450.46v2M226.84 444.42v2M226.84 438.38v2M226.84 432.34v2M232.40 480.34v2M232.40 474.38v2M232.40 468.42v2M232.40 462.46v2M232.40 450.46v2M232.40 444.42v2M232.40 438.38v2M232.40 432.34v2M237.96 480.34v2M237.96 474.38v2M237.96 468.42v2M237.96 462.46v2M237.96 450.46v2M237.96 444.42v2M237.96 438.38v2M237.96 432.34v2M243.52 480.34v2M243.52 474.38v2M243.52 468.42v2M243.52 462.46v2M243.52 450.46v2M243.52 444.42v2M243.52 438.38v2M243.52 432.34v2M249.08 480.34v2M249.08 474.38v2M249.08 468.42v2M249.08 462.46v2M249.08 450.46v2M249.08 444.42v2M249.08 438.38v2M249.08 432.34v2M254.64 480.34v2M254.64 474.38v2M254.64 468.42v2M254.64 462.46v2M254.64 450.46v2M254.64 444.42v2M254.64 438.38v2M254.64 432.34v2M260.20 480.34v2M260.20 474.38v2M260.20 468.42v2M260.20 462.46v2M260.20 450.46v2M260.20 444.42v2M260.20 438.38v2M260.20 432.34v2M265.76 480.34v2M265.76 474.38v2M265.76 468.42v2M265.76 462.46v2M265.76 450.46v2M265.76 444.42v2M265.76 438.38v2M265.76 432.34v2M271.32 480.34v2M271.32 474.38v2M271.32 468.42v2M271.32 462.46v2M271.32 450.46v2M271.32 444.42v2M271.32 438.38v2M271.32 432.34v2M276.88 480.34v2M276.88 474.38v2M276.88 468.42v2M276.88 462.46v2M276.88 450.46v2M276.88 444.42v2M276.88 438.38v2M276.88 432.34v2M282.44 480.34v2M282.44 474.38v2M282.44 468.42v2M282.44 462.46v2M282.44 450.46v2M282.44 444.42v2M282.44 438.38v2M282.44 432.34v2M288.00 480.34v2M288.00 474.38v2M288.00 468.42v2M288.00 462.46v2M288.00 450.46v2M288.00 444.42v2M288.00 438.38v2M288.00 432.34v2M293.56 480.34v2M293.56 474.38v2M293.56 468.42v2M293.56 462.46v2M293.56 450.46v2M293.56 444.42v2M293.56 438.38v2M293.56 432.34v2M299.12 480.34v2M299.12 474.38v2M299.12 468.42v2M299.12 462.46v2M299.12 450.46v2M299.12 444.42v2M299.12 438.38v2M299.12 432.34v2M304.68 480.34v2M304.68 474.38v2M304.68 468.42v2M304.68 462.46v2M304.68 450.46v2M304.68 444.42v2M304.68 438.38v2M304.68 432.34v2M310.24 480.34v2M310.24 474.38v2M310.24 468.42v2M310.24 462.46v2M310.24 450.46v2M310.24 444.42v2M310.24 438.38v2M310.24 432.34v2M315.80 480.34v2M315.80 474.38v2M315.80 468.42v2M315.80 462.46v2M315.80 450.46v2M315.80 444.42v2M315.80 438.38v2M315.80 432.34v2M321.36 480.34v2M321.36 474.38v2M321.36 468.42v2M321.36 462.46v2M321.36 450.46v2M321.36 444.42v2M321.36 438.38v2M321.36 432.34v2M326.92 480.34v2M326.92 474.38v2M326.92 468.42v2M326.92 462.46v2M326.92 450.46v2M326.92 444.42v2M326.92 438.38v2M326.92 432.34v2M332.48 480.34v2M332.48 474.38v2M332.48 468.42v2M332.48 462.46v2M332.48 450.46v2M332.48 444.42v2M332.48 438.38v2M332.48 432.34v2M338.04 480.34v2M338.04 474.38v2M338.04 468.42v2M338.04 462.46v2M338.04 450.46v2M338.04 444.42v2M338.04 438.38v2M338.04 432.34v2M343.60 480.34v2M343.60 474.38v2M343.60 468.42v2M343.60 462.46v2M343.60 450.46v2M343.60 444.42v2M343.60 438.38v2M343.60 432.34v2M349.16 480.34v2M349.16 474.38v2M349.16 468.42v2M349.16 462.46v2M349.16 450.46v2M349.16 444.42v2M349.16 438.38v2M349.16 432.34v2" stroke="#c2c2c2" stroke-width="1.3" fill="none"/>
<path d="M147.30 427.30H355.40V487.30H147.30ZM147.30 427.30v3.4M147.30 487.30v-3.4M188.30 427.30v3.4M188.30 487.30v-3.4M230.50 427.30v3.4M230.50 487.30v-3.4M272.40 427.30v3.4M272.40 487.30v-3.4M313.30 427.30v3.4M313.30 487.30v-3.4M355.40 427.30v3.4M355.40 487.30v-3.4M147.30 427.30h3.4M355.40 427.30h-3.4M147.30 457.50h3.4M355.40 457.50h-3.4M147.30 487.30h3.4M355.40 487.30h-3.4" stroke="#262626" stroke-width="2.2" fill="none" stroke-linejoin="miter"/>
<g fill="none" stroke="#0072bd" stroke-width="2.0"><circle cx="173.2" cy="487.2" r="4.1"/><circle cx="173.8" cy="487.2" r="4.1"/><circle cx="174.9" cy="487.2" r="4.1"/><circle cx="176.0" cy="487.2" r="4.1"/><circle cx="176.7" cy="487.2" r="4.1"/><circle cx="177.7" cy="487.2" r="4.1"/><circle cx="178.4" cy="487.2" r="4.1"/><circle cx="179.1" cy="487.2" r="4.1"/><circle cx="180.1" cy="487.2" r="4.1"/><circle cx="181.0" cy="487.2" r="4.1"/><circle cx="181.9" cy="487.2" r="4.1"/><circle cx="182.7" cy="487.2" r="4.1"/><circle cx="183.6" cy="487.2" r="4.1"/><circle cx="184.6" cy="487.2" r="4.1"/><circle cx="185.3" cy="487.2" r="4.1"/><circle cx="186.4" cy="487.2" r="4.1"/><circle cx="187.1" cy="487.2" r="4.1"/><circle cx="187.7" cy="487.2" r="4.1"/><circle cx="188.8" cy="487.2" r="4.1"/><circle cx="189.4" cy="487.2" r="4.1"/><circle cx="190.5" cy="487.2" r="4.1"/><circle cx="191.6" cy="487.2" r="4.1"/><circle cx="192.3" cy="487.2" r="4.1"/><circle cx="193.1" cy="487.2" r="4.1"/><circle cx="194.0" cy="487.2" r="4.1"/><circle cx="195.0" cy="487.2" r="4.1"/><circle cx="195.7" cy="487.2" r="4.1"/><circle cx="196.3" cy="487.2" r="4.1"/><circle cx="197.5" cy="487.2" r="4.1"/><circle cx="198.3" cy="487.2" r="4.1"/><circle cx="199.2" cy="487.2" r="4.1"/><circle cx="200.2" cy="487.2" r="4.1"/><circle cx="200.9" cy="487.2" r="4.1"/><circle cx="201.6" cy="487.2" r="4.1"/><circle cx="202.7" cy="487.2" r="4.1"/><circle cx="203.8" cy="487.2" r="4.1"/><circle cx="204.4" cy="487.2" r="4.1"/><circle cx="205.5" cy="487.2" r="4.1"/><circle cx="206.1" cy="487.2" r="4.1"/><circle cx="206.7" cy="487.2" r="4.1"/><circle cx="207.9" cy="487.2" r="4.1"/><circle cx="208.4" cy="487.2" r="4.1"/><circle cx="209.6" cy="487.2" r="4.1"/><circle cx="210.5" cy="487.2" r="4.1"/><circle cx="211.3" cy="487.2" r="4.1"/><circle cx="212.5" cy="487.2" r="4.1"/><circle cx="213.1" cy="487.2" r="4.1"/><circle cx="213.8" cy="487.2" r="4.1"/><circle cx="214.8" cy="487.2" r="4.1"/><circle cx="215.5" cy="487.2" r="4.1"/><circle cx="216.5" cy="487.2" r="4.1"/><circle cx="217.3" cy="487.2" r="4.1"/><circle cx="218.3" cy="487.2" r="4.1"/><circle cx="218.8" cy="487.2" r="4.1"/><circle cx="220.0" cy="487.2" r="4.1"/><circle cx="220.7" cy="487.2" r="4.1"/><circle cx="221.7" cy="487.2" r="4.1"/><circle cx="222.6" cy="487.2" r="4.1"/><circle cx="223.5" cy="487.2" r="4.1"/><circle cx="224.3" cy="487.2" r="4.1"/><circle cx="225.2" cy="487.2" r="4.1"/><circle cx="225.9" cy="487.2" r="4.1"/><circle cx="226.9" cy="487.2" r="4.1"/><circle cx="227.6" cy="487.2" r="4.1"/><circle cx="228.7" cy="487.2" r="4.1"/><circle cx="230.6" cy="474.4" r="4.1"/><circle cx="232.2" cy="462.8" r="4.1"/><circle cx="234.2" cy="454.8" r="4.1"/><circle cx="237.5" cy="487.2" r="4.1"/><circle cx="240.9" cy="464.4" r="4.1"/><circle cx="242.6" cy="439.2" r="4.1"/><circle cx="244.5" cy="479.8" r="4.1"/><circle cx="245.2" cy="480.1" r="4.1"/><circle cx="246.0" cy="481.3" r="4.1"/><circle cx="247.7" cy="487.2" r="4.1"/><circle cx="248.4" cy="487.2" r="4.1"/><circle cx="249.4" cy="487.2" r="4.1"/><circle cx="250.0" cy="487.2" r="4.1"/><circle cx="251.2" cy="487.2" r="4.1"/><circle cx="252.2" cy="487.2" r="4.1"/><circle cx="252.9" cy="487.2" r="4.1"/><circle cx="253.8" cy="487.2" r="4.1"/><circle cx="254.6" cy="487.2" r="4.1"/><circle cx="255.6" cy="487.2" r="4.1"/><circle cx="256.4" cy="487.2" r="4.1"/><circle cx="257.1" cy="487.2" r="4.1"/><circle cx="258.1" cy="487.2" r="4.1"/><circle cx="259.3" cy="487.2" r="4.1"/><circle cx="259.8" cy="487.2" r="4.1"/><circle cx="260.9" cy="487.2" r="4.1"/><circle cx="261.6" cy="487.2" r="4.1"/><circle cx="262.2" cy="487.2" r="4.1"/><circle cx="263.3" cy="487.2" r="4.1"/><circle cx="263.2" cy="480.5" r="4.1"/><circle cx="264.8" cy="479.3" r="4.1"/><circle cx="266.1" cy="478.6" r="4.1"/><circle cx="267.6" cy="476.5" r="4.1"/><circle cx="268.6" cy="473.8" r="4.1"/><circle cx="269.9" cy="475.6" r="4.1"/><circle cx="270.9" cy="477.7" r="4.1"/><circle cx="271.7" cy="477.0" r="4.1"/><circle cx="272.8" cy="475.7" r="4.1"/><circle cx="273.8" cy="468.0" r="4.1"/><circle cx="275.3" cy="465.7" r="4.1"/><circle cx="276.3" cy="463.2" r="4.1"/><circle cx="277.4" cy="465.2" r="4.1"/><circle cx="278.6" cy="466.1" r="4.1"/><circle cx="279.3" cy="467.7" r="4.1"/><circle cx="280.5" cy="469.0" r="4.1"/><circle cx="282.5" cy="458.4" r="4.1"/><circle cx="283.8" cy="459.9" r="4.1"/><circle cx="284.8" cy="462.2" r="4.1"/><circle cx="285.9" cy="464.0" r="4.1"/><circle cx="287.3" cy="466.1" r="4.1"/><circle cx="290.2" cy="470.9" r="4.1"/><circle cx="291.8" cy="469.5" r="4.1"/><circle cx="293.1" cy="468.0" r="4.1"/><circle cx="296.9" cy="455.5" r="4.1"/><circle cx="299.8" cy="461.3" r="4.1"/><circle cx="301.2" cy="463.0" r="4.1"/><circle cx="302.7" cy="464.2" r="4.1"/><circle cx="304.2" cy="465.1" r="4.1"/><circle cx="305.6" cy="466.1" r="4.1"/><circle cx="308.5" cy="461.3" r="4.1"/><circle cx="309.5" cy="460.3" r="4.1"/><circle cx="310.4" cy="458.4" r="4.1"/><circle cx="312.9" cy="449.3" r="4.1"/><circle cx="313.2" cy="449.5" r="4.1"/><circle cx="313.6" cy="450.1" r="4.1"/><circle cx="316.2" cy="462.2" r="4.1"/><circle cx="316.2" cy="487.2" r="4.1"/><circle cx="316.8" cy="487.2" r="4.1"/><circle cx="317.9" cy="487.2" r="4.1"/><circle cx="318.5" cy="487.2" r="4.1"/><circle cx="319.7" cy="487.2" r="4.1"/><circle cx="320.7" cy="487.2" r="4.1"/><circle cx="321.4" cy="487.2" r="4.1"/><circle cx="322.6" cy="487.2" r="4.1"/><circle cx="323.1" cy="487.2" r="4.1"/><circle cx="324.1" cy="487.2" r="4.1"/><circle cx="324.9" cy="487.2" r="4.1"/><circle cx="325.7" cy="487.2" r="4.1"/><circle cx="326.6" cy="487.2" r="4.1"/><circle cx="327.8" cy="468.0" r="4.1"/><circle cx="328.8" cy="468.9" r="4.1"/><circle cx="329.7" cy="470.9" r="4.1"/><circle cx="330.8" cy="473.1" r="4.1"/><circle cx="331.6" cy="473.8" r="4.1"/><circle cx="333.6" cy="487.3" r="4.1"/><circle cx="334.8" cy="485.4" r="4.1"/><circle cx="335.5" cy="483.4" r="4.1"/><circle cx="337.4" cy="475.7" r="4.1"/><circle cx="339.4" cy="481.5" r="4.1"/><circle cx="340.4" cy="480.6" r="4.1"/><circle cx="341.3" cy="480.5" r="4.1"/></g>
<text x="138.4" y="433.6" text-anchor="end" font-size="18" textLength="31.5" lengthAdjust="spacingAndGlyphs">200</text>
<text x="138.4" y="463.8" text-anchor="end" font-size="18" textLength="31.5" lengthAdjust="spacingAndGlyphs">100</text>
<text x="138.4" y="493.6" text-anchor="end" font-size="18" textLength="10.5" lengthAdjust="spacingAndGlyphs">0</text>
</g>
<g>
<path d="M532.40 427.30V487.30M573.50 427.30V487.30M615.40 427.30V487.30M657.40 427.30V487.30" stroke="#dedede" stroke-width="2" fill="none"/>
<path d="M492.10 474.30v2M492.10 462.30v2M492.10 450.30v2M492.10 438.30v2M497.66 474.30v2M497.66 462.30v2M497.66 450.30v2M497.66 438.30v2M503.22 474.30v2M503.22 462.30v2M503.22 450.30v2M503.22 438.30v2M508.78 474.30v2M508.78 462.30v2M508.78 450.30v2M508.78 438.30v2M514.34 474.30v2M514.34 462.30v2M514.34 450.30v2M514.34 438.30v2M519.90 474.30v2M519.90 462.30v2M519.90 450.30v2M519.90 438.30v2M525.46 474.30v2M525.46 462.30v2M525.46 450.30v2M525.46 438.30v2M531.02 474.30v2M531.02 462.30v2M531.02 450.30v2M531.02 438.30v2M536.58 474.30v2M536.58 462.30v2M536.58 450.30v2M536.58 438.30v2M542.14 474.30v2M542.14 462.30v2M542.14 450.30v2M542.14 438.30v2M547.70 474.30v2M547.70 462.30v2M547.70 450.30v2M547.70 438.30v2M553.26 474.30v2M553.26 462.30v2M553.26 450.30v2M553.26 438.30v2M558.82 474.30v2M558.82 462.30v2M558.82 450.30v2M558.82 438.30v2M564.38 474.30v2M564.38 462.30v2M564.38 450.30v2M564.38 438.30v2M569.94 474.30v2M569.94 462.30v2M569.94 450.30v2M569.94 438.30v2M575.50 474.30v2M575.50 462.30v2M575.50 450.30v2M575.50 438.30v2M581.06 474.30v2M581.06 462.30v2M581.06 450.30v2M581.06 438.30v2M586.62 474.30v2M586.62 462.30v2M586.62 450.30v2M586.62 438.30v2M592.18 474.30v2M592.18 462.30v2M592.18 450.30v2M592.18 438.30v2M597.74 474.30v2M597.74 462.30v2M597.74 450.30v2M597.74 438.30v2M603.30 474.30v2M603.30 462.30v2M603.30 450.30v2M603.30 438.30v2M608.86 474.30v2M608.86 462.30v2M608.86 450.30v2M608.86 438.30v2M614.42 474.30v2M614.42 462.30v2M614.42 450.30v2M614.42 438.30v2M619.98 474.30v2M619.98 462.30v2M619.98 450.30v2M619.98 438.30v2M625.54 474.30v2M625.54 462.30v2M625.54 450.30v2M625.54 438.30v2M631.10 474.30v2M631.10 462.30v2M631.10 450.30v2M631.10 438.30v2M636.66 474.30v2M636.66 462.30v2M636.66 450.30v2M636.66 438.30v2M642.22 474.30v2M642.22 462.30v2M642.22 450.30v2M642.22 438.30v2M647.78 474.30v2M647.78 462.30v2M647.78 450.30v2M647.78 438.30v2M653.34 474.30v2M653.34 462.30v2M653.34 450.30v2M653.34 438.30v2M658.90 474.30v2M658.90 462.30v2M658.90 450.30v2M658.90 438.30v2M664.46 474.30v2M664.46 462.30v2M664.46 450.30v2M664.46 438.30v2M670.02 474.30v2M670.02 462.30v2M670.02 450.30v2M670.02 438.30v2M675.58 474.30v2M675.58 462.30v2M675.58 450.30v2M675.58 438.30v2M681.14 474.30v2M681.14 462.30v2M681.14 450.30v2M681.14 438.30v2M686.70 474.30v2M686.70 462.30v2M686.70 450.30v2M686.70 438.30v2M692.26 474.30v2M692.26 462.30v2M692.26 450.30v2M692.26 438.30v2" stroke="#c2c2c2" stroke-width="1.3" fill="none"/>
<path d="M490.40 427.30H698.60V487.30H490.40ZM490.40 427.30v3.4M490.40 487.30v-3.4M532.40 427.30v3.4M532.40 487.30v-3.4M573.50 427.30v3.4M573.50 487.30v-3.4M615.40 427.30v3.4M615.40 487.30v-3.4M657.40 427.30v3.4M657.40 487.30v-3.4M698.60 427.30v3.4M698.60 487.30v-3.4M490.40 427.30h3.4M698.60 427.30h-3.4M490.40 487.30h3.4M698.60 487.30h-3.4" stroke="#262626" stroke-width="2.2" fill="none" stroke-linejoin="miter"/>
<g fill="none" stroke="#0072bd" stroke-width="2.0"><circle cx="515.7" cy="466.9" r="4.1"/><circle cx="517.9" cy="464.7" r="4.1"/><circle cx="520.0" cy="460.9" r="4.1"/><circle cx="521.7" cy="457.9" r="4.1"/><circle cx="523.9" cy="466.0" r="4.1"/><circle cx="525.2" cy="474.6" r="4.1"/><circle cx="526.0" cy="481.9" r="4.1"/><circle cx="527.7" cy="485.5" r="4.1"/><circle cx="529.4" cy="484.2" r="4.1"/><circle cx="531.1" cy="485.4" r="4.1"/><circle cx="532.9" cy="486.3" r="4.1"/><circle cx="534.6" cy="486.9" r="4.1"/><circle cx="536.3" cy="487.2" r="4.1"/><circle cx="538.1" cy="487.2" r="4.1"/><circle cx="539.8" cy="487.2" r="4.1"/><circle cx="541.5" cy="487.2" r="4.1"/><circle cx="543.3" cy="487.2" r="4.1"/><circle cx="545.0" cy="487.2" r="4.1"/><circle cx="546.7" cy="486.9" r="4.1"/><circle cx="548.5" cy="486.3" r="4.1"/><circle cx="550.2" cy="485.4" r="4.1"/><circle cx="551.9" cy="484.2" r="4.1"/><circle cx="554.4" cy="476.2" r="4.1"/><circle cx="556.0" cy="470.1" r="4.1"/><circle cx="558.5" cy="453.6" r="4.1"/><circle cx="559.9" cy="451.6" r="4.1"/><circle cx="561.9" cy="443.3" r="4.1"/><circle cx="563.3" cy="441.9" r="4.1"/><circle cx="565.1" cy="462.5" r="4.1"/><circle cx="566.7" cy="479.7" r="4.1"/><circle cx="568.1" cy="486.7" r="4.1"/><circle cx="569.8" cy="487.2" r="4.1"/><circle cx="571.6" cy="487.2" r="4.1"/><circle cx="573.3" cy="487.2" r="4.1"/><circle cx="575.0" cy="487.2" r="4.1"/><circle cx="576.8" cy="487.2" r="4.1"/><circle cx="578.5" cy="487.2" r="4.1"/><circle cx="580.2" cy="487.2" r="4.1"/><circle cx="582.0" cy="487.2" r="4.1"/><circle cx="583.7" cy="487.2" r="4.1"/><circle cx="585.4" cy="487.2" r="4.1"/><circle cx="587.2" cy="486.7" r="4.1"/><circle cx="587.9" cy="481.5" r="4.1"/><circle cx="589.4" cy="475.5" r="4.1"/><circle cx="590.6" cy="467.6" r="4.1"/><circle cx="592.4" cy="463.4" r="4.1"/><circle cx="593.6" cy="459.2" r="4.1"/><circle cx="594.8" cy="455.6" r="4.1"/><circle cx="596.0" cy="452.0" r="4.1"/><circle cx="597.2" cy="448.4" r="4.1"/><circle cx="598.4" cy="444.8" r="4.1"/><circle cx="599.6" cy="435.8" r="4.1"/><circle cx="601.4" cy="441.8" r="4.1"/><circle cx="603.2" cy="464.0" r="4.1"/><circle cx="605.0" cy="474.8" r="4.1"/><circle cx="606.2" cy="478.5" r="4.1"/><circle cx="607.4" cy="482.0" r="4.1"/><circle cx="609.0" cy="486.7" r="4.1"/><circle cx="610.7" cy="487.2" r="4.1"/><circle cx="612.5" cy="487.2" r="4.1"/><circle cx="614.2" cy="487.2" r="4.1"/><circle cx="615.9" cy="487.2" r="4.1"/><circle cx="617.7" cy="487.2" r="4.1"/><circle cx="619.4" cy="487.2" r="4.1"/><circle cx="621.1" cy="487.2" r="4.1"/><circle cx="622.9" cy="487.2" r="4.1"/><circle cx="624.6" cy="486.7" r="4.1"/><circle cx="627.7" cy="477.7" r="4.1"/><circle cx="628.7" cy="468.8" r="4.1"/><circle cx="630.2" cy="464.3" r="4.1"/><circle cx="631.7" cy="459.2" r="4.1"/><circle cx="633.6" cy="454.7" r="4.1"/><circle cx="635.1" cy="451.0" r="4.1"/><circle cx="637.0" cy="446.6" r="4.1"/><circle cx="638.8" cy="442.9" r="4.1"/><circle cx="641.0" cy="440.7" r="4.1"/><circle cx="642.5" cy="440.7" r="4.1"/><circle cx="644.0" cy="447.3" r="4.1"/><circle cx="645.0" cy="453.3" r="4.1"/><circle cx="646.5" cy="460.7" r="4.1"/><circle cx="647.9" cy="469.5" r="4.1"/><circle cx="649.9" cy="478.4" r="4.1"/><circle cx="651.6" cy="486.7" r="4.1"/><circle cx="653.3" cy="487.2" r="4.1"/><circle cx="655.1" cy="487.2" r="4.1"/><circle cx="656.8" cy="487.2" r="4.1"/><circle cx="658.5" cy="487.2" r="4.1"/><circle cx="660.3" cy="487.2" r="4.1"/><circle cx="662.0" cy="487.2" r="4.1"/><circle cx="663.7" cy="487.2" r="4.1"/><circle cx="665.5" cy="487.2" r="4.1"/><circle cx="667.2" cy="486.7" r="4.1"/><circle cx="669.8" cy="475.4" r="4.1"/><circle cx="671.0" cy="464.0" r="4.1"/><circle cx="672.0" cy="453.3" r="4.1"/><circle cx="673.5" cy="450.3" r="4.1"/><circle cx="675.0" cy="447.3" r="4.1"/><circle cx="677.2" cy="442.9" r="4.1"/><circle cx="678.7" cy="443.7" r="4.1"/><circle cx="680.2" cy="450.3" r="4.1"/><circle cx="681.6" cy="452.5" r="4.1"/><circle cx="683.1" cy="455.5" r="4.1"/></g>
<text x="481.8" y="433.6" text-anchor="end" font-size="18" textLength="31.5" lengthAdjust="spacingAndGlyphs">500</text>
<text x="481.8" y="493.6" text-anchor="end" font-size="18" textLength="10.5" lengthAdjust="spacingAndGlyphs">0</text>
</g>
<text transform="translate(160.9 509.0) rotate(-45)" text-anchor="end" font-size="18" textLength="52" lengthAdjust="spacingAndGlyphs">03/09</text>
<text transform="translate(201.9 509.0) rotate(-45)" text-anchor="end" font-size="18" textLength="52" lengthAdjust="spacingAndGlyphs">03/10</text>
<text transform="translate(244.1 509.0) rotate(-45)" text-anchor="end" font-size="18" textLength="52" lengthAdjust="spacingAndGlyphs">03/11</text>
<text transform="translate(286.0 509.0) rotate(-45)" text-anchor="end" font-size="18" textLength="52" lengthAdjust="spacingAndGlyphs">03/12</text>
<text transform="translate(326.9 509.0) rotate(-45)" text-anchor="end" font-size="18" textLength="52" lengthAdjust="spacingAndGlyphs">03/13</text>
<text transform="translate(369.0 509.0) rotate(-45)" text-anchor="end" font-size="18" textLength="52" lengthAdjust="spacingAndGlyphs">03/14</text>
<text x="250.5" y="575.8" text-anchor="middle" font-size="20.5" textLength="50.5" lengthAdjust="spacingAndGlyphs">Time</text>
<text transform="translate(504.0 509.0) rotate(-45)" text-anchor="end" font-size="18" textLength="52" lengthAdjust="spacingAndGlyphs">03/09</text>
<text transform="translate(546.0 509.0) rotate(-45)" text-anchor="end" font-size="18" textLength="52" lengthAdjust="spacingAndGlyphs">03/10</text>
<text transform="translate(587.1 509.0) rotate(-45)" text-anchor="end" font-size="18" textLength="52" lengthAdjust="spacingAndGlyphs">03/11</text>
<text transform="translate(629.0 509.0) rotate(-45)" text-anchor="end" font-size="18" textLength="52" lengthAdjust="spacingAndGlyphs">03/12</text>
<text transform="translate(671.0 509.0) rotate(-45)" text-anchor="end" font-size="18" textLength="52" lengthAdjust="spacingAndGlyphs">03/13</text>
<text transform="translate(712.2 509.0) rotate(-45)" text-anchor="end" font-size="18" textLength="52" lengthAdjust="spacingAndGlyphs">03/14</text>
<text x="593.7" y="575.8" text-anchor="middle" font-size="20.5" textLength="50.5" lengthAdjust="spacingAndGlyphs">Time</text>
<text x="251" y="31.7" text-anchor="middle" font-size="19.6" font-weight="bold" fill="#000" textLength="139" lengthAdjust="spacingAndGlyphs">Figure 3 high</text>
<text transform="translate(84.0 125.6) rotate(-90)" font-size="21.8" textLength="102.0" lengthAdjust="spacingAndGlyphs">PRESSURE</text>
<text transform="translate(438.2 108.0) rotate(-90)" font-size="21.8" textLength="67.0" lengthAdjust="spacingAndGlyphs">THETA</text>
<text transform="translate(460.8 250.4) rotate(-90)" font-size="21.8" textLength="97.0" lengthAdjust="spacingAndGlyphs">RAINFALL</text>
<text transform="translate(84.9 383.6) rotate(-90)" font-size="21.8" textLength="106.5" lengthAdjust="spacingAndGlyphs">MIXDEPTH</text>
<text transform="translate(460.8 384.3) rotate(-90)" font-size="21.8" textLength="110.5" lengthAdjust="spacingAndGlyphs">H2OMIXRA</text>
<text transform="translate(86.2 246.0) rotate(-90)" font-size="21.8"><tspan x="0.0" y="0.0" textLength="31.5" lengthAdjust="spacingAndGlyphs">AIR</tspan><tspan x="32.4" y="9.5" font-size="16.5" textLength="12.0" lengthAdjust="spacingAndGlyphs">T</tspan><tspan x="45.0" y="0.0" textLength="43.5" lengthAdjust="spacingAndGlyphs">EMP</tspan></text>
<text transform="translate(86.4 502.8) rotate(-90)" font-size="21.8"><tspan x="0.0" y="0.0" textLength="49.5" lengthAdjust="spacingAndGlyphs">TERR</tspan><tspan x="49.2" y="9.9" font-size="16.5" textLength="17.0" lengthAdjust="spacingAndGlyphs">M</tspan><tspan x="67.0" y="0.0" textLength="22.8" lengthAdjust="spacingAndGlyphs">SL</tspan></text>
<text transform="translate(399.1 503.6) rotate(-90)" font-size="21.8"><tspan x="0.0" y="0.0" textLength="40.5" lengthAdjust="spacingAndGlyphs">SUN</tspan><tspan x="45.0" y="8.7" font-size="16.5" textLength="9.5" lengthAdjust="spacingAndGlyphs">F</tspan><tspan x="54.4" y="0.0" textLength="38.5" lengthAdjust="spacingAndGlyphs">LUX</tspan></text>
</svg></body></html>
